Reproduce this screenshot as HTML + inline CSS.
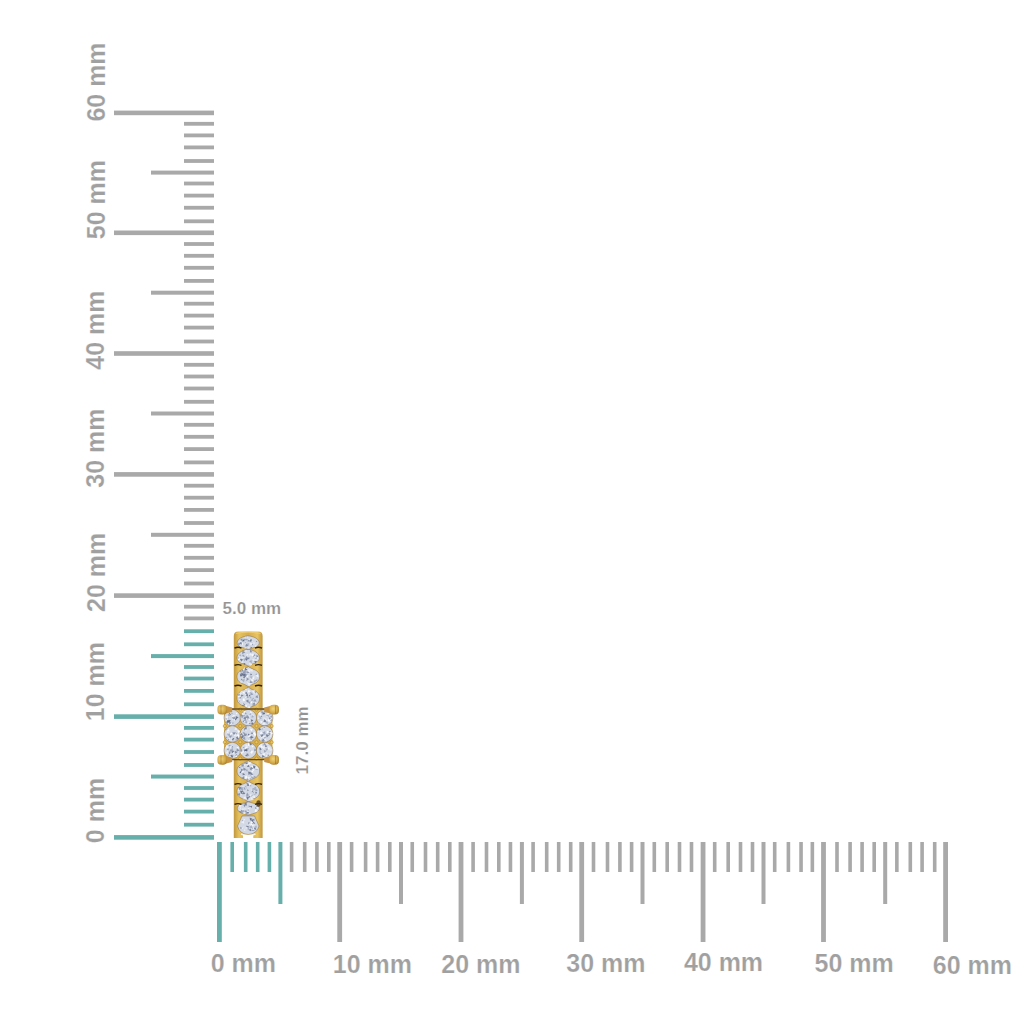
<!DOCTYPE html>
<html><head><meta charset="utf-8"><style>
html,body{margin:0;padding:0;background:#fff;}
svg{display:block;}
.lab text{font-family:"Liberation Sans",sans-serif;font-weight:bold;font-size:25.0px;fill:#a0a0a0;stroke:#fff;stroke-width:0.2px;paint-order:normal;}
.sm text{font-family:"Liberation Sans",sans-serif;font-weight:bold;font-size:17.0px;fill:#939393;stroke:#fff;stroke-width:0.2px;}
</style></head><body>
<svg width="1024" height="1024" viewBox="0 0 1024 1024">
<rect width="1024" height="1024" fill="#fff"/>
<g>
<rect x="114" y="835.10" width="100" height="4.6" fill="#66afaa"/>
<rect x="184" y="822.80" width="30" height="3.8" fill="#66afaa"/>
<rect x="184" y="809.70" width="30" height="3.8" fill="#66afaa"/>
<rect x="184" y="797.70" width="30" height="3.8" fill="#66afaa"/>
<rect x="184" y="786.10" width="30" height="3.8" fill="#66afaa"/>
<rect x="151" y="774.55" width="63" height="4.0" fill="#66afaa"/>
<rect x="184" y="763.10" width="30" height="3.8" fill="#66afaa"/>
<rect x="184" y="750.10" width="30" height="3.8" fill="#66afaa"/>
<rect x="184" y="737.70" width="30" height="3.8" fill="#66afaa"/>
<rect x="184" y="726.00" width="30" height="3.8" fill="#66afaa"/>
<rect x="114" y="714.30" width="100" height="4.6" fill="#66afaa"/>
<rect x="184" y="702.40" width="30" height="3.8" fill="#66afaa"/>
<rect x="184" y="689.00" width="30" height="3.8" fill="#66afaa"/>
<rect x="184" y="676.60" width="30" height="3.8" fill="#66afaa"/>
<rect x="184" y="665.10" width="30" height="3.8" fill="#66afaa"/>
<rect x="151" y="654.10" width="63" height="4.0" fill="#66afaa"/>
<rect x="184" y="642.40" width="30" height="3.8" fill="#66afaa"/>
<rect x="184" y="629.30" width="30" height="3.8" fill="#66afaa"/>
<rect x="184" y="616.50" width="30" height="3.8" fill="#a9a9a9"/>
<rect x="184" y="604.80" width="30" height="3.8" fill="#a9a9a9"/>
<rect x="114" y="593.30" width="100" height="4.6" fill="#a9a9a9"/>
<rect x="184" y="581.60" width="30" height="3.8" fill="#a9a9a9"/>
<rect x="184" y="568.20" width="30" height="3.8" fill="#a9a9a9"/>
<rect x="184" y="555.90" width="30" height="3.8" fill="#a9a9a9"/>
<rect x="184" y="543.90" width="30" height="3.8" fill="#a9a9a9"/>
<rect x="151" y="532.80" width="63" height="4.0" fill="#a9a9a9"/>
<rect x="184" y="521.10" width="30" height="3.8" fill="#a9a9a9"/>
<rect x="184" y="508.00" width="30" height="3.8" fill="#a9a9a9"/>
<rect x="184" y="495.80" width="30" height="3.8" fill="#a9a9a9"/>
<rect x="184" y="483.80" width="30" height="3.8" fill="#a9a9a9"/>
<rect x="114" y="472.10" width="100" height="4.6" fill="#a9a9a9"/>
<rect x="184" y="460.50" width="30" height="3.8" fill="#a9a9a9"/>
<rect x="184" y="447.20" width="30" height="3.8" fill="#a9a9a9"/>
<rect x="184" y="434.90" width="30" height="3.8" fill="#a9a9a9"/>
<rect x="184" y="422.90" width="30" height="3.8" fill="#a9a9a9"/>
<rect x="151" y="411.50" width="63" height="4.0" fill="#a9a9a9"/>
<rect x="184" y="399.90" width="30" height="3.8" fill="#a9a9a9"/>
<rect x="184" y="386.60" width="30" height="3.8" fill="#a9a9a9"/>
<rect x="184" y="374.60" width="30" height="3.8" fill="#a9a9a9"/>
<rect x="184" y="362.90" width="30" height="3.8" fill="#a9a9a9"/>
<rect x="114" y="351.20" width="100" height="4.6" fill="#a9a9a9"/>
<rect x="184" y="339.60" width="30" height="3.8" fill="#a9a9a9"/>
<rect x="184" y="325.70" width="30" height="3.8" fill="#a9a9a9"/>
<rect x="184" y="313.70" width="30" height="3.8" fill="#a9a9a9"/>
<rect x="184" y="301.80" width="30" height="3.8" fill="#a9a9a9"/>
<rect x="151" y="290.70" width="63" height="4.0" fill="#a9a9a9"/>
<rect x="184" y="279.00" width="30" height="3.8" fill="#a9a9a9"/>
<rect x="184" y="265.90" width="30" height="3.8" fill="#a9a9a9"/>
<rect x="184" y="253.90" width="30" height="3.8" fill="#a9a9a9"/>
<rect x="184" y="242.10" width="30" height="3.8" fill="#a9a9a9"/>
<rect x="114" y="230.50" width="100" height="4.6" fill="#a9a9a9"/>
<rect x="184" y="219.40" width="30" height="3.8" fill="#a9a9a9"/>
<rect x="184" y="205.85" width="30" height="3.8" fill="#a9a9a9"/>
<rect x="184" y="193.70" width="30" height="3.8" fill="#a9a9a9"/>
<rect x="184" y="181.60" width="30" height="3.8" fill="#a9a9a9"/>
<rect x="151" y="170.60" width="63" height="4.0" fill="#a9a9a9"/>
<rect x="184" y="159.10" width="30" height="3.8" fill="#a9a9a9"/>
<rect x="184" y="145.50" width="30" height="3.8" fill="#a9a9a9"/>
<rect x="184" y="133.50" width="30" height="3.8" fill="#a9a9a9"/>
<rect x="184" y="121.90" width="30" height="3.8" fill="#a9a9a9"/>
<rect x="114" y="110.60" width="100" height="4.6" fill="#a9a9a9"/>
<rect x="217.00" y="842" width="4.8" height="100" fill="#66afaa"/>
<rect x="230.40" y="842" width="3.6" height="30" fill="#66afaa"/>
<rect x="243.90" y="842" width="3.6" height="30" fill="#66afaa"/>
<rect x="255.90" y="842" width="3.6" height="30" fill="#66afaa"/>
<rect x="267.60" y="842" width="3.6" height="30" fill="#66afaa"/>
<rect x="278.40" y="842" width="4.0" height="62" fill="#66afaa"/>
<rect x="289.80" y="842" width="3.6" height="30" fill="#a9a9a9"/>
<rect x="302.90" y="842" width="3.6" height="30" fill="#a9a9a9"/>
<rect x="315.10" y="842" width="3.6" height="30" fill="#a9a9a9"/>
<rect x="327.00" y="842" width="3.6" height="30" fill="#a9a9a9"/>
<rect x="337.30" y="842" width="4.8" height="100" fill="#a9a9a9"/>
<rect x="349.80" y="842" width="3.6" height="30" fill="#a9a9a9"/>
<rect x="363.80" y="842" width="3.6" height="30" fill="#a9a9a9"/>
<rect x="375.80" y="842" width="3.6" height="30" fill="#a9a9a9"/>
<rect x="388.00" y="842" width="3.6" height="30" fill="#a9a9a9"/>
<rect x="399.00" y="842" width="4.0" height="62" fill="#a9a9a9"/>
<rect x="410.45" y="842" width="3.6" height="30" fill="#a9a9a9"/>
<rect x="423.70" y="842" width="3.6" height="30" fill="#a9a9a9"/>
<rect x="435.90" y="842" width="3.6" height="30" fill="#a9a9a9"/>
<rect x="448.00" y="842" width="3.6" height="30" fill="#a9a9a9"/>
<rect x="458.60" y="842" width="4.8" height="100" fill="#a9a9a9"/>
<rect x="471.30" y="842" width="3.6" height="30" fill="#a9a9a9"/>
<rect x="484.70" y="842" width="3.6" height="30" fill="#a9a9a9"/>
<rect x="497.00" y="842" width="3.6" height="30" fill="#a9a9a9"/>
<rect x="508.65" y="842" width="3.6" height="30" fill="#a9a9a9"/>
<rect x="519.90" y="842" width="4.0" height="62" fill="#a9a9a9"/>
<rect x="531.30" y="842" width="3.6" height="30" fill="#a9a9a9"/>
<rect x="544.90" y="842" width="3.6" height="30" fill="#a9a9a9"/>
<rect x="556.90" y="842" width="3.6" height="30" fill="#a9a9a9"/>
<rect x="568.90" y="842" width="3.6" height="30" fill="#a9a9a9"/>
<rect x="579.30" y="842" width="4.8" height="100" fill="#a9a9a9"/>
<rect x="591.70" y="842" width="3.6" height="30" fill="#a9a9a9"/>
<rect x="605.70" y="842" width="3.6" height="30" fill="#a9a9a9"/>
<rect x="618.10" y="842" width="3.6" height="30" fill="#a9a9a9"/>
<rect x="629.80" y="842" width="3.6" height="30" fill="#a9a9a9"/>
<rect x="640.50" y="842" width="4.0" height="62" fill="#a9a9a9"/>
<rect x="652.50" y="842" width="3.6" height="30" fill="#a9a9a9"/>
<rect x="665.40" y="842" width="3.6" height="30" fill="#a9a9a9"/>
<rect x="677.70" y="842" width="3.6" height="30" fill="#a9a9a9"/>
<rect x="689.70" y="842" width="3.6" height="30" fill="#a9a9a9"/>
<rect x="700.65" y="842" width="4.8" height="100" fill="#a9a9a9"/>
<rect x="712.90" y="842" width="3.6" height="30" fill="#a9a9a9"/>
<rect x="726.40" y="842" width="3.6" height="30" fill="#a9a9a9"/>
<rect x="738.70" y="842" width="3.6" height="30" fill="#a9a9a9"/>
<rect x="750.70" y="842" width="3.6" height="30" fill="#a9a9a9"/>
<rect x="761.50" y="842" width="4.0" height="62" fill="#a9a9a9"/>
<rect x="772.90" y="842" width="3.6" height="30" fill="#a9a9a9"/>
<rect x="786.60" y="842" width="3.6" height="30" fill="#a9a9a9"/>
<rect x="799.25" y="842" width="3.6" height="30" fill="#a9a9a9"/>
<rect x="810.55" y="842" width="3.6" height="30" fill="#a9a9a9"/>
<rect x="821.10" y="842" width="4.8" height="100" fill="#a9a9a9"/>
<rect x="835.20" y="842" width="3.6" height="30" fill="#a9a9a9"/>
<rect x="848.30" y="842" width="3.6" height="30" fill="#a9a9a9"/>
<rect x="860.30" y="842" width="3.6" height="30" fill="#a9a9a9"/>
<rect x="872.40" y="842" width="3.6" height="30" fill="#a9a9a9"/>
<rect x="883.20" y="842" width="4.0" height="62" fill="#a9a9a9"/>
<rect x="895.05" y="842" width="3.6" height="30" fill="#a9a9a9"/>
<rect x="908.50" y="842" width="3.6" height="30" fill="#a9a9a9"/>
<rect x="920.30" y="842" width="3.6" height="30" fill="#a9a9a9"/>
<rect x="932.90" y="842" width="3.6" height="30" fill="#a9a9a9"/>
<rect x="943.20" y="842" width="4.8" height="100" fill="#a9a9a9"/>
</g>
<g class="lab">
<text x="243.40" y="971.95" text-anchor="middle">0 mm</text>
<text x="372.40" y="972.75" text-anchor="middle">10 mm</text>
<text x="480.90" y="972.95" text-anchor="middle">20 mm</text>
<text x="605.90" y="971.55" text-anchor="middle">30 mm</text>
<text x="723.50" y="971.45" text-anchor="middle">40 mm</text>
<text x="854.20" y="972.25" text-anchor="middle">50 mm</text>
<text x="972.40" y="974.35" text-anchor="middle">60 mm</text>
<text transform="translate(104.15,810.50) rotate(-90)" text-anchor="middle">0 mm</text>
<text transform="translate(104.15,681.60) rotate(-90)" text-anchor="middle">10 mm</text>
<text transform="translate(105.35,572.40) rotate(-90)" text-anchor="middle">20 mm</text>
<text transform="translate(103.95,448.10) rotate(-90)" text-anchor="middle">30 mm</text>
<text transform="translate(103.85,330.10) rotate(-90)" text-anchor="middle">40 mm</text>
<text transform="translate(104.65,199.60) rotate(-90)" text-anchor="middle">50 mm</text>
<text transform="translate(105.35,82.00) rotate(-90)" text-anchor="middle">60 mm</text>
</g>
<g class="sm">
<text x="251.90" y="613.99" text-anchor="middle">5.0 mm</text>
<text transform="translate(308.19,740.40) rotate(-90)" text-anchor="middle">17.0 mm</text>
</g>
<g>
<defs>
<linearGradient id="gold" x1="0" y1="0" x2="1" y2="0">
<stop offset="0" stop-color="#c1973f"/>
<stop offset="0.18" stop-color="#e6c25f"/>
<stop offset="0.5" stop-color="#d6ad4e"/>
<stop offset="0.82" stop-color="#e8c462"/>
<stop offset="1" stop-color="#bf953d"/>
</linearGradient>
<linearGradient id="goldv" x1="0" y1="0" x2="0" y2="1">
<stop offset="0" stop-color="#dfb858"/>
<stop offset="1" stop-color="#d3aa4c"/>
</linearGradient>
<radialGradient id="prong" cx="0.4" cy="0.4" r="0.7">
<stop offset="0" stop-color="#efd47a"/>
<stop offset="0.6" stop-color="#d4aa4a"/>
<stop offset="1" stop-color="#a77d2c"/>
</radialGradient>
<filter id="soft" x="-10%" y="-10%" width="120%" height="120%"><feGaussianBlur stdDeviation="0.45"/></filter>
</defs>
<g filter="url(#soft)">
<path d="M233.8,636 Q233.8,631.6 238.5,631.6 L258,631.6 Q262.6,631.6 262.6,636 L262.6,838 L253.3,838 L253.3,835 L243,835 L243,838 L233.8,838 Z" fill="url(#gold)"/>
<path d="M236,633.5 Q248,631 260.5,633.5" stroke="#f3d27a" stroke-width="1.2" fill="none" opacity="0.7"/>
<polygon points="259.20,642.80 259.10,643.69 258.78,644.55 258.21,645.36 257.39,646.08 256.37,646.67 255.23,647.15 254.07,647.53 252.92,647.85 251.80,648.17 250.69,648.54 249.53,649.02 248.20,649.60 246.87,649.02 245.71,648.54 244.60,648.17 243.48,647.85 242.33,647.53 241.17,647.15 240.03,646.67 239.01,646.08 238.19,645.36 237.62,644.55 237.30,643.69 237.20,642.80 237.29,641.91 237.58,641.04 238.07,640.21 238.74,639.42 239.58,638.71 240.56,638.08 241.65,637.52 242.83,637.05 244.07,636.64 245.39,636.32 246.77,636.10 248.20,636.00 249.63,636.10 251.01,636.32 252.33,636.64 253.57,637.05 254.75,637.52 255.84,638.08 256.82,638.71 257.66,639.42 258.33,640.21 258.82,641.04 259.11,641.91" fill="#d3d9e4" stroke="#6e4a1c" stroke-width="0.7" stroke-opacity="0.55"/>
<polygon points="239.43,644.53 242.00,642.18 242.74,645.58" fill="#ffffff" opacity="0.8"/>
<polygon points="248.90,641.06 251.42,639.04 251.91,642.23" fill="#5e6a86" opacity="0.8"/>
<polygon points="252.93,643.67 253.18,645.40 251.56,644.76" fill="#73809c" opacity="0.8"/>
<polygon points="243.15,639.27 244.55,641.34 242.05,641.52" fill="#5e6a86" opacity="0.8"/>
<polygon points="242.94,639.26 241.32,639.76 241.70,638.11" fill="#8894ad" opacity="0.8"/>
<polygon points="240.30,639.06 242.54,639.17 241.33,641.05" fill="#73809c" opacity="0.8"/>
<polygon points="239.85,640.96 242.13,642.20 239.92,643.55" fill="#f4f6fa" opacity="0.8"/>
<polygon points="246.20,639.05 244.63,641.25 243.51,638.79" fill="#8894ad" opacity="0.8"/>
<polygon points="246.51,640.75 245.95,638.79 247.93,639.29" fill="#8894ad" opacity="0.8"/>
<polygon points="245.05,643.05 244.58,641.33 246.31,641.78" fill="#8894ad" opacity="0.8"/>
<polygon points="256.89,642.26 255.80,641.15 257.31,640.76" fill="#73809c" opacity="0.8"/>
<polygon points="240.17,644.50 237.79,644.66 238.85,642.52" fill="#73809c" opacity="0.8"/>
<polygon points="248.58,640.66 248.58,638.92 250.09,639.79" fill="#ffffff" opacity="0.8"/>
<polygon points="249.33,641.49 247.27,641.26 248.50,639.59" fill="#73809c" opacity="0.8"/>
<polygon points="242.36,645.29 240.01,643.46 242.77,642.34" fill="#ffffff" opacity="0.8"/>
<polygon points="250.51,646.66 252.21,647.34 250.78,648.47" fill="#525d78" opacity="0.8"/>
<polygon points="241.31,645.72 241.01,647.25 239.83,646.22" fill="#e6eaf1" opacity="0.8"/>
<polygon points="244.30,648.73 245.05,646.88 246.28,648.45" fill="#e6eaf1" opacity="0.8"/>
<polygon points="255.79,647.41 254.88,645.62 256.88,645.73" fill="#ffffff" opacity="0.8"/>
<polygon points="251.31,640.55 250.11,639.34 251.76,638.90" fill="#8894ad" opacity="0.8"/>
<polygon points="255.10,644.33 252.36,643.55 254.41,641.56" fill="#e6eaf1" opacity="0.8"/>
<polygon points="241.81,645.03 239.09,643.06 242.15,641.68" fill="#9aa5bd" opacity="0.8"/>
<polygon points="246.25,643.80 248.03,646.00 245.23,646.44" fill="#5e6a86" opacity="0.8"/>
<polygon points="248.67,636.75 247.35,638.21 246.74,636.34" fill="#e6eaf1" opacity="0.8"/>
<polygon points="244.27,640.73 242.57,641.22 243.00,639.50" fill="#525d78" opacity="0.8"/>
<polygon points="249.32,646.65 249.45,648.74 247.58,647.80" fill="#e6eaf1" opacity="0.8"/>
<polygon points="248.73,645.91 245.68,646.19 246.96,643.42" fill="#8894ad" opacity="0.8"/>
<polygon points="242.03,644.15 239.19,644.32 240.47,641.78" fill="#73809c" opacity="0.8"/>
<polygon points="251.82,642.39 251.20,640.93 252.78,641.12" fill="#f4f6fa" opacity="0.8"/>
<polygon points="247.00,643.83 249.03,643.14 248.61,645.24" fill="#9aa5bd" opacity="0.8"/>
<polygon points="250.46,645.26 250.43,642.76 252.61,643.98" fill="#ffffff" opacity="0.8"/>
<polygon points="246.06,641.79 244.56,642.44 244.75,640.82" fill="#f4f6fa" opacity="0.8"/>
<polygon points="244.76,636.59 246.27,637.12 245.06,638.17" fill="#e6eaf1" opacity="0.8"/>
<polygon points="259.40,657.80 259.30,658.90 258.97,659.96 258.37,660.96 257.51,661.83 256.44,662.54 255.26,663.09 254.05,663.51 252.87,663.86 251.74,664.21 250.64,664.64 249.51,665.27 248.20,666.20 246.89,665.27 245.76,664.64 244.66,664.21 243.53,663.86 242.35,663.51 241.14,663.09 239.96,662.54 238.89,661.83 238.03,660.96 237.43,659.96 237.10,658.90 237.00,657.80 237.10,656.70 237.40,655.63 237.90,654.60 238.61,653.65 239.49,652.78 240.50,652.02 241.61,651.36 242.80,650.79 244.05,650.29 245.37,649.87 246.75,649.55 248.20,649.40 249.65,649.55 251.03,649.87 252.35,650.29 253.60,650.79 254.79,651.36 255.90,652.02 256.91,652.78 257.79,653.65 258.50,654.60 259.00,655.63 259.30,656.70" fill="#d3d9e4" stroke="#6e4a1c" stroke-width="0.7" stroke-opacity="0.55"/>
<polygon points="254.09,659.93 252.25,660.06 253.06,658.40" fill="#f4f6fa" opacity="0.8"/>
<polygon points="240.06,654.04 242.01,656.86 238.59,657.14" fill="#9aa5bd" opacity="0.8"/>
<polygon points="250.17,649.88 252.00,651.25 249.90,652.16" fill="#8894ad" opacity="0.8"/>
<polygon points="253.73,653.00 253.13,656.14 250.70,654.05" fill="#e6eaf1" opacity="0.8"/>
<polygon points="257.41,658.45 255.29,659.46 255.48,657.12" fill="#8894ad" opacity="0.8"/>
<polygon points="256.51,659.17 255.47,662.64 252.99,660.01" fill="#ffffff" opacity="0.8"/>
<polygon points="240.36,662.41 242.08,660.24 243.09,662.82" fill="#f4f6fa" opacity="0.8"/>
<polygon points="254.71,660.41 256.32,660.59 255.36,661.90" fill="#e6eaf1" opacity="0.8"/>
<polygon points="257.79,657.78 258.38,659.47 256.62,659.13" fill="#e6eaf1" opacity="0.8"/>
<polygon points="247.61,657.44 249.42,658.66 247.45,659.62" fill="#73809c" opacity="0.8"/>
<polygon points="241.02,656.52 239.72,658.38 238.76,656.32" fill="#e6eaf1" opacity="0.8"/>
<polygon points="253.05,656.79 250.85,654.85 253.64,653.91" fill="#ffffff" opacity="0.8"/>
<polygon points="251.24,652.95 249.90,651.50 251.83,651.06" fill="#8894ad" opacity="0.8"/>
<polygon points="242.41,655.78 243.98,654.83 244.02,656.67" fill="#73809c" opacity="0.8"/>
<polygon points="246.52,652.00 244.69,650.90 246.55,649.86" fill="#f4f6fa" opacity="0.8"/>
<polygon points="237.61,660.33 238.61,657.20 240.83,659.63" fill="#ffffff" opacity="0.8"/>
<polygon points="244.65,657.74 242.00,659.71 241.62,656.42" fill="#f4f6fa" opacity="0.8"/>
<polygon points="243.46,663.01 245.57,663.34 244.24,665.01" fill="#525d78" opacity="0.8"/>
<polygon points="245.17,656.29 242.22,657.54 242.60,654.36" fill="#9aa5bd" opacity="0.8"/>
<polygon points="244.51,661.39 243.22,658.51 246.37,658.83" fill="#9aa5bd" opacity="0.8"/>
<polygon points="251.80,651.55 250.02,651.26 251.16,649.87" fill="#f4f6fa" opacity="0.8"/>
<polygon points="242.48,650.51 245.34,652.62 242.09,654.04" fill="#73809c" opacity="0.8"/>
<polygon points="250.45,652.75 251.89,655.43 248.85,655.34" fill="#f4f6fa" opacity="0.8"/>
<polygon points="246.59,655.81 246.75,653.69 248.51,654.89" fill="#ffffff" opacity="0.8"/>
<polygon points="239.15,656.89 238.97,658.77 237.43,657.68" fill="#8894ad" opacity="0.8"/>
<polygon points="257.41,662.75 254.48,661.86 256.71,659.77" fill="#f4f6fa" opacity="0.8"/>
<polygon points="250.33,663.99 251.87,663.67 251.38,665.16" fill="#ffffff" opacity="0.8"/>
<polygon points="250.08,649.85 252.38,650.89 250.33,652.36" fill="#73809c" opacity="0.8"/>
<polygon points="257.19,660.89 255.45,663.60 253.97,660.74" fill="#525d78" opacity="0.8"/>
<polygon points="252.36,664.22 249.53,666.45 249.02,662.89" fill="#f4f6fa" opacity="0.8"/>
<polygon points="257.22,655.59 258.62,657.16 256.55,657.58" fill="#5e6a86" opacity="0.8"/>
<polygon points="245.22,659.06 247.64,658.55 246.88,660.90" fill="#525d78" opacity="0.8"/>
<polygon points="248.29,658.63 245.07,659.02 246.34,656.04" fill="#73809c" opacity="0.8"/>
<polygon points="251.99,662.95 248.99,661.83 251.46,659.80" fill="#9aa5bd" opacity="0.8"/>
<polygon points="256.74,656.42 258.92,657.90 256.55,659.05" fill="#f4f6fa" opacity="0.8"/>
<polygon points="256.36,657.14 252.83,657.08 254.65,654.05" fill="#8894ad" opacity="0.8"/>
<polygon points="239.71,659.10 242.97,658.66 241.73,661.70" fill="#5e6a86" opacity="0.8"/>
<polygon points="238.79,658.30 238.42,655.60 240.94,656.63" fill="#e6eaf1" opacity="0.8"/>
<polygon points="256.34,657.43 255.83,654.66 258.49,655.60" fill="#9aa5bd" opacity="0.8"/>
<polygon points="255.57,658.28 253.53,656.42 256.15,655.59" fill="#f4f6fa" opacity="0.8"/>
<polygon points="247.40,657.81 249.65,657.16 249.09,659.43" fill="#73809c" opacity="0.8"/>
<polygon points="240.37,656.62 243.57,656.21 242.33,659.18" fill="#e6eaf1" opacity="0.8"/>
<polygon points="259.60,676.60 259.50,677.90 259.17,679.18 258.58,680.37 257.74,681.42 256.69,682.30 255.53,682.99 254.33,683.55 253.15,684.03 252.00,684.50 250.86,685.04 249.66,685.75 248.30,686.60 246.94,685.75 245.74,685.04 244.60,684.50 243.45,684.03 242.27,683.55 241.07,682.99 239.91,682.30 238.86,681.42 238.02,680.37 237.43,679.18 237.10,677.90 237.00,676.60 237.10,675.30 237.43,674.02 238.02,672.83 238.86,671.78 239.91,670.90 241.07,670.21 242.27,669.65 243.45,669.17 244.60,668.70 245.74,668.16 246.94,667.45 248.30,666.60 249.66,667.45 250.86,668.16 252.00,668.70 253.15,669.17 254.33,669.65 255.53,670.21 256.69,670.90 257.74,671.78 258.58,672.83 259.17,674.02 259.50,675.30" fill="#d3d9e4" stroke="#6e4a1c" stroke-width="0.7" stroke-opacity="0.55"/>
<polygon points="249.68,679.07 252.16,676.61 253.05,679.99" fill="#e6eaf1" opacity="0.8"/>
<polygon points="246.53,682.94 247.60,681.47 248.34,683.13" fill="#e6eaf1" opacity="0.8"/>
<polygon points="246.49,676.41 244.20,677.22 244.65,674.83" fill="#525d78" opacity="0.8"/>
<polygon points="254.55,683.03 253.32,682.00 254.83,681.44" fill="#8894ad" opacity="0.8"/>
<polygon points="253.56,678.71 251.94,676.11 255.00,676.01" fill="#e6eaf1" opacity="0.8"/>
<polygon points="253.87,681.06 255.50,680.26 255.38,682.07" fill="#525d78" opacity="0.8"/>
<polygon points="248.58,669.78 245.43,671.03 245.93,667.68" fill="#ffffff" opacity="0.8"/>
<polygon points="252.81,669.38 252.30,672.01 250.28,670.25" fill="#f4f6fa" opacity="0.8"/>
<polygon points="242.24,670.54 245.52,671.13 243.37,673.67" fill="#9aa5bd" opacity="0.8"/>
<polygon points="250.75,682.93 249.38,685.87 247.52,683.22" fill="#ffffff" opacity="0.8"/>
<polygon points="241.14,670.55 241.80,672.40 239.87,672.05" fill="#73809c" opacity="0.8"/>
<polygon points="250.85,673.37 252.13,674.98 250.09,675.28" fill="#525d78" opacity="0.8"/>
<polygon points="241.43,679.75 244.83,678.88 243.89,682.26" fill="#9aa5bd" opacity="0.8"/>
<polygon points="252.20,684.19 248.99,683.93 250.81,681.28" fill="#e6eaf1" opacity="0.8"/>
<polygon points="245.99,670.44 242.49,669.72 244.86,667.05" fill="#ffffff" opacity="0.8"/>
<polygon points="245.54,670.98 245.55,674.61 242.40,672.80" fill="#8894ad" opacity="0.8"/>
<polygon points="245.41,675.57 248.50,676.16 246.44,678.53" fill="#e6eaf1" opacity="0.8"/>
<polygon points="244.55,677.96 243.03,677.00 244.62,676.16" fill="#5e6a86" opacity="0.8"/>
<polygon points="258.64,676.48 256.90,676.71 257.57,675.09" fill="#f4f6fa" opacity="0.8"/>
<polygon points="249.76,678.47 251.07,676.50 252.13,678.62" fill="#f4f6fa" opacity="0.8"/>
<polygon points="241.16,678.58 242.33,679.65 240.82,680.13" fill="#73809c" opacity="0.8"/>
<polygon points="249.58,682.90 250.93,680.12 252.67,682.68" fill="#73809c" opacity="0.8"/>
<polygon points="245.09,676.62 244.90,673.42 247.77,674.86" fill="#8894ad" opacity="0.8"/>
<polygon points="249.59,668.31 252.80,669.26 250.37,671.56" fill="#e6eaf1" opacity="0.8"/>
<polygon points="243.56,676.34 243.69,673.57 246.03,675.07" fill="#525d78" opacity="0.8"/>
<polygon points="248.64,681.02 245.89,679.58 248.52,677.91" fill="#e6eaf1" opacity="0.8"/>
<polygon points="251.01,681.42 251.62,678.81 253.57,680.65" fill="#ffffff" opacity="0.8"/>
<polygon points="250.49,671.87 247.44,672.11 248.75,669.35" fill="#ffffff" opacity="0.8"/>
<polygon points="249.27,679.09 246.43,680.96 246.23,677.57" fill="#73809c" opacity="0.8"/>
<polygon points="248.48,686.41 248.56,683.47 251.07,685.01" fill="#e6eaf1" opacity="0.8"/>
<polygon points="243.19,673.92 241.14,675.11 241.14,672.74" fill="#73809c" opacity="0.8"/>
<polygon points="247.78,669.69 244.44,671.02 244.95,667.47" fill="#525d78" opacity="0.8"/>
<polygon points="249.26,672.65 246.92,673.15 247.67,670.87" fill="#73809c" opacity="0.8"/>
<polygon points="247.50,677.07 246.76,675.11 248.82,675.45" fill="#ffffff" opacity="0.8"/>
<polygon points="239.79,673.84 243.35,673.49 241.87,676.74" fill="#525d78" opacity="0.8"/>
<polygon points="241.79,670.09 243.50,670.24 242.51,671.65" fill="#73809c" opacity="0.8"/>
<polygon points="242.47,681.84 240.68,683.38 240.24,681.06" fill="#e6eaf1" opacity="0.8"/>
<polygon points="239.59,674.91 241.67,673.61 241.75,676.06" fill="#9aa5bd" opacity="0.8"/>
<polygon points="240.54,676.78 239.86,674.57 242.12,675.09" fill="#525d78" opacity="0.8"/>
<polygon points="242.96,676.57 242.25,673.61 245.17,674.48" fill="#5e6a86" opacity="0.8"/>
<polygon points="247.96,670.94 249.27,668.38 250.83,670.80" fill="#e6eaf1" opacity="0.8"/>
<polygon points="252.29,677.51 254.68,677.48 253.51,679.56" fill="#ffffff" opacity="0.8"/>
<polygon points="255.24,680.47 257.17,678.96 257.51,681.39" fill="#8894ad" opacity="0.8"/>
<polygon points="252.82,676.36 251.33,679.24 249.58,676.50" fill="#9aa5bd" opacity="0.8"/>
<polygon points="258.28,676.64 255.53,676.08 257.39,673.97" fill="#ffffff" opacity="0.8"/>
<polygon points="243.11,677.51 244.67,676.94 244.38,678.58" fill="#525d78" opacity="0.8"/>
<polygon points="244.78,678.22 247.19,678.49 245.75,680.44" fill="#e6eaf1" opacity="0.8"/>
<polygon points="246.57,670.20 246.92,673.28 244.07,672.05" fill="#9aa5bd" opacity="0.8"/>
<polygon points="257.21,675.20 255.20,674.81 256.54,673.26" fill="#9aa5bd" opacity="0.8"/>
<polygon points="249.78,671.23 248.90,669.10 251.19,669.41" fill="#e6eaf1" opacity="0.8"/>
<polygon points="259.60,698.00 259.50,699.41 259.17,700.78 258.58,702.07 257.74,703.21 256.69,704.15 255.53,704.91 254.33,705.51 253.15,706.02 252.00,706.53 250.86,707.12 249.66,707.88 248.30,708.80 246.94,707.88 245.74,707.12 244.60,706.53 243.45,706.02 242.27,705.51 241.07,704.91 239.91,704.15 238.86,703.21 238.02,702.07 237.43,700.78 237.10,699.41 237.00,698.00 237.10,696.59 237.43,695.22 238.02,693.93 238.86,692.79 239.91,691.85 241.07,691.09 242.27,690.49 243.45,689.98 244.60,689.47 245.74,688.88 246.94,688.12 248.30,687.20 249.66,688.12 250.86,688.88 252.00,689.47 253.15,689.98 254.33,690.49 255.53,691.09 256.69,691.85 257.74,692.79 258.58,693.93 259.17,695.22 259.50,696.59" fill="#d3d9e4" stroke="#6e4a1c" stroke-width="0.7" stroke-opacity="0.55"/>
<polygon points="247.04,695.36 245.85,693.59 247.98,693.44" fill="#8894ad" opacity="0.8"/>
<polygon points="239.93,696.86 241.52,698.02 239.73,698.82" fill="#73809c" opacity="0.8"/>
<polygon points="254.18,698.50 252.63,698.96 253.01,697.39" fill="#8894ad" opacity="0.8"/>
<polygon points="245.31,696.45 246.76,697.41 245.20,698.19" fill="#f4f6fa" opacity="0.8"/>
<polygon points="248.33,708.40 248.66,705.86 250.70,707.42" fill="#ffffff" opacity="0.8"/>
<polygon points="245.31,705.57 242.02,705.76 243.50,702.81" fill="#525d78" opacity="0.8"/>
<polygon points="240.14,698.86 241.43,701.90 238.16,701.51" fill="#f4f6fa" opacity="0.8"/>
<polygon points="242.61,701.55 243.33,698.39 245.70,700.59" fill="#ffffff" opacity="0.8"/>
<polygon points="246.90,707.61 244.25,705.68 247.25,704.35" fill="#f4f6fa" opacity="0.8"/>
<polygon points="241.24,694.57 243.41,694.02 242.80,696.17" fill="#ffffff" opacity="0.8"/>
<polygon points="241.51,697.08 240.87,694.17 243.72,695.07" fill="#5e6a86" opacity="0.8"/>
<polygon points="253.79,700.82 250.85,700.85 252.30,698.29" fill="#9aa5bd" opacity="0.8"/>
<polygon points="240.70,697.39 240.03,699.53 238.52,697.88" fill="#8894ad" opacity="0.8"/>
<polygon points="244.07,705.11 241.80,704.62 243.36,702.90" fill="#f4f6fa" opacity="0.8"/>
<polygon points="241.53,693.17 239.84,696.25 238.02,693.24" fill="#f4f6fa" opacity="0.8"/>
<polygon points="238.99,697.67 237.36,695.75 239.83,695.30" fill="#ffffff" opacity="0.8"/>
<polygon points="247.49,704.64 247.92,702.36 249.68,703.88" fill="#e6eaf1" opacity="0.8"/>
<polygon points="239.57,695.08 240.24,692.06 242.52,694.15" fill="#e6eaf1" opacity="0.8"/>
<polygon points="240.34,697.25 238.07,695.75 240.51,694.53" fill="#f4f6fa" opacity="0.8"/>
<polygon points="251.18,694.53 252.64,693.87 252.49,695.47" fill="#f4f6fa" opacity="0.8"/>
<polygon points="251.69,701.50 251.61,703.10 250.26,702.22" fill="#ffffff" opacity="0.8"/>
<polygon points="256.55,701.64 253.36,701.62 254.97,698.86" fill="#8894ad" opacity="0.8"/>
<polygon points="249.09,701.21 247.02,701.99 247.38,699.81" fill="#9aa5bd" opacity="0.8"/>
<polygon points="255.20,701.49 256.88,703.25 254.52,703.83" fill="#e6eaf1" opacity="0.8"/>
<polygon points="247.55,692.40 248.73,689.48 250.67,691.96" fill="#ffffff" opacity="0.8"/>
<polygon points="249.23,693.03 250.75,691.99 250.89,693.83" fill="#8894ad" opacity="0.8"/>
<polygon points="246.51,688.13 246.62,690.53 244.47,689.42" fill="#f4f6fa" opacity="0.8"/>
<polygon points="255.07,690.09 253.95,693.19 251.83,690.67" fill="#f4f6fa" opacity="0.8"/>
<polygon points="244.36,691.12 244.95,694.10 242.08,693.12" fill="#ffffff" opacity="0.8"/>
<polygon points="257.23,694.88 255.41,693.90 257.17,692.81" fill="#e6eaf1" opacity="0.8"/>
<polygon points="244.72,692.90 246.96,692.11 246.53,694.44" fill="#525d78" opacity="0.8"/>
<polygon points="251.59,698.41 249.44,697.98 250.89,696.32" fill="#9aa5bd" opacity="0.8"/>
<polygon points="248.03,694.34 249.23,693.15 249.66,694.78" fill="#e6eaf1" opacity="0.8"/>
<polygon points="240.02,700.20 238.36,698.75 240.45,698.03" fill="#f4f6fa" opacity="0.8"/>
<polygon points="247.81,701.46 250.85,701.67 249.14,704.20" fill="#8894ad" opacity="0.8"/>
<polygon points="240.82,700.42 239.71,702.54 238.43,700.51" fill="#9aa5bd" opacity="0.8"/>
<polygon points="242.60,690.27 242.26,692.95 240.11,691.31" fill="#e6eaf1" opacity="0.8"/>
<polygon points="254.16,691.80 256.37,691.30 255.71,693.47" fill="#8894ad" opacity="0.8"/>
<polygon points="244.63,698.17 243.54,699.42 243.00,697.85" fill="#e6eaf1" opacity="0.8"/>
<polygon points="257.35,694.97 258.25,698.01 255.17,697.27" fill="#73809c" opacity="0.8"/>
<polygon points="244.78,694.34 246.00,693.33 246.27,694.89" fill="#f4f6fa" opacity="0.8"/>
<polygon points="244.67,698.44 244.04,700.79 242.32,699.07" fill="#ffffff" opacity="0.8"/>
<polygon points="252.19,701.54 251.72,703.58 250.18,702.15" fill="#ffffff" opacity="0.8"/>
<polygon points="252.39,703.75 254.99,702.58 254.70,705.41" fill="#73809c" opacity="0.8"/>
<polygon points="253.71,703.85 253.83,705.41 252.42,704.73" fill="#9aa5bd" opacity="0.8"/>
<polygon points="249.27,694.39 250.69,695.96 248.62,696.41" fill="#525d78" opacity="0.8"/>
<polygon points="254.56,692.02 255.44,693.51 253.71,693.53" fill="#f4f6fa" opacity="0.8"/>
<polygon points="250.07,694.90 251.67,692.13 253.27,694.90" fill="#8894ad" opacity="0.8"/>
<polygon points="248.77,692.41 249.55,690.97 250.40,692.37" fill="#e6eaf1" opacity="0.8"/>
<polygon points="252.72,706.31 252.41,704.13 254.46,704.95" fill="#8894ad" opacity="0.8"/>
<polygon points="240.69,695.45 237.76,695.76 238.96,693.07" fill="#8894ad" opacity="0.8"/>
<polygon points="245.74,695.52 247.46,693.87 248.02,696.18" fill="#525d78" opacity="0.8"/>
<polygon points="247.35,695.83 248.99,697.51 246.72,698.09" fill="#8894ad" opacity="0.8"/>
<polygon points="248.54,699.60 248.09,702.73 245.60,700.77" fill="#73809c" opacity="0.8"/>
<path d="M234.5,648.1 q3.5,-1.6 7,0" stroke="#2e200c" stroke-width="1.4" fill="none"/><path d="M255,648.1 q3.5,-1.6 7,0" stroke="#2e200c" stroke-width="1.4" fill="none"/>
<path d="M234.5,665.4 q3.5,-1.6 7,0" stroke="#2e200c" stroke-width="1.4" fill="none"/><path d="M255,665.4 q3.5,-1.6 7,0" stroke="#2e200c" stroke-width="1.4" fill="none"/>
<path d="M234.5,686.0 q3.5,-1.6 7,0" stroke="#2e200c" stroke-width="1.4" fill="none"/><path d="M255,686.0 q3.5,-1.6 7,0" stroke="#2e200c" stroke-width="1.4" fill="none"/>
<polygon points="259.60,771.00 259.50,772.34 259.17,773.66 258.58,774.88 257.74,775.97 256.69,776.87 255.53,777.59 254.33,778.16 253.15,778.65 252.00,779.13 250.86,779.70 249.66,780.42 248.30,781.30 246.94,780.42 245.74,779.70 244.60,779.13 243.45,778.65 242.27,778.16 241.07,777.59 239.91,776.87 238.86,775.97 238.02,774.88 237.43,773.66 237.10,772.34 237.00,771.00 237.10,769.66 237.43,768.34 238.02,767.12 238.86,766.03 239.91,765.13 241.07,764.41 242.27,763.84 243.45,763.35 244.60,762.87 245.74,762.30 246.94,761.58 248.30,760.70 249.66,761.58 250.86,762.30 252.00,762.87 253.15,763.35 254.33,763.84 255.53,764.41 256.69,765.13 257.74,766.03 258.58,767.12 259.17,768.34 259.50,769.66" fill="#d3d9e4" stroke="#6e4a1c" stroke-width="0.7" stroke-opacity="0.55"/>
<polygon points="252.94,768.35 251.19,770.62 250.10,767.98" fill="#9aa5bd" opacity="0.8"/>
<polygon points="257.79,769.61 255.08,769.55 256.49,767.23" fill="#73809c" opacity="0.8"/>
<polygon points="252.11,777.82 250.66,779.53 249.90,777.42" fill="#e6eaf1" opacity="0.8"/>
<polygon points="239.55,773.31 240.30,770.94 241.98,772.78" fill="#525d78" opacity="0.8"/>
<polygon points="249.76,771.47 251.86,773.56 248.99,774.33" fill="#5e6a86" opacity="0.8"/>
<polygon points="248.54,771.20 250.37,772.93 247.95,773.65" fill="#525d78" opacity="0.8"/>
<polygon points="247.99,775.08 248.80,773.45 249.81,774.96" fill="#8894ad" opacity="0.8"/>
<polygon points="244.76,779.33 241.48,778.14 244.15,775.90" fill="#73809c" opacity="0.8"/>
<polygon points="248.57,764.15 248.54,761.79 250.60,762.95" fill="#ffffff" opacity="0.8"/>
<polygon points="241.65,767.18 241.37,764.36 243.96,765.53" fill="#8894ad" opacity="0.8"/>
<polygon points="243.77,765.92 243.75,764.33 245.14,765.11" fill="#ffffff" opacity="0.8"/>
<polygon points="246.47,778.06 244.51,776.18 247.11,775.42" fill="#ffffff" opacity="0.8"/>
<polygon points="251.32,764.50 248.80,763.22 251.17,761.68" fill="#f4f6fa" opacity="0.8"/>
<polygon points="252.92,767.22 254.91,766.08 254.90,768.37" fill="#9aa5bd" opacity="0.8"/>
<polygon points="246.43,769.20 243.42,770.98 243.38,767.48" fill="#73809c" opacity="0.8"/>
<polygon points="247.12,768.73 248.15,771.48 245.26,770.99" fill="#9aa5bd" opacity="0.8"/>
<polygon points="247.72,779.29 247.64,776.29 250.29,777.72" fill="#f4f6fa" opacity="0.8"/>
<polygon points="247.18,777.91 248.70,779.90 246.22,780.21" fill="#8894ad" opacity="0.8"/>
<polygon points="252.78,766.69 255.48,766.30 254.47,768.83" fill="#525d78" opacity="0.8"/>
<polygon points="251.44,779.42 251.47,776.00 254.42,777.73" fill="#9aa5bd" opacity="0.8"/>
<polygon points="255.67,775.89 254.83,777.88 253.53,776.16" fill="#8894ad" opacity="0.8"/>
<polygon points="247.71,765.00 249.61,765.17 248.51,766.73" fill="#8894ad" opacity="0.8"/>
<polygon points="244.00,771.82 242.19,774.44 240.83,771.55" fill="#9aa5bd" opacity="0.8"/>
<polygon points="244.15,779.04 245.07,776.09 247.16,778.37" fill="#e6eaf1" opacity="0.8"/>
<polygon points="241.94,765.56 242.83,763.90 243.82,765.50" fill="#73809c" opacity="0.8"/>
<polygon points="252.82,776.74 250.51,775.27 252.94,774.00" fill="#ffffff" opacity="0.8"/>
<polygon points="253.48,774.91 250.05,775.56 251.20,772.26" fill="#73809c" opacity="0.8"/>
<polygon points="245.38,763.23 247.43,762.00 247.47,764.40" fill="#525d78" opacity="0.8"/>
<polygon points="241.52,770.55 243.77,772.31 241.12,773.37" fill="#ffffff" opacity="0.8"/>
<polygon points="249.48,763.00 249.36,766.63 246.28,764.72" fill="#ffffff" opacity="0.8"/>
<polygon points="250.79,767.89 249.68,769.31 249.01,767.64" fill="#ffffff" opacity="0.8"/>
<polygon points="241.09,771.88 240.82,768.45 243.92,769.93" fill="#73809c" opacity="0.8"/>
<polygon points="245.10,778.71 245.75,776.34 247.48,778.09" fill="#ffffff" opacity="0.8"/>
<polygon points="249.82,766.76 247.04,767.00 248.23,764.47" fill="#525d78" opacity="0.8"/>
<polygon points="252.91,767.02 250.32,769.19 249.74,765.86" fill="#e6eaf1" opacity="0.8"/>
<polygon points="245.48,766.03 245.13,764.00 247.06,764.71" fill="#e6eaf1" opacity="0.8"/>
<polygon points="256.59,765.85 258.77,768.76 255.16,769.19" fill="#f4f6fa" opacity="0.8"/>
<polygon points="252.87,768.53 250.79,766.06 253.97,765.49" fill="#ffffff" opacity="0.8"/>
<polygon points="240.07,766.56 240.52,768.27 238.82,767.80" fill="#525d78" opacity="0.8"/>
<polygon points="253.37,767.82 252.79,765.38 255.19,766.10" fill="#9aa5bd" opacity="0.8"/>
<polygon points="250.95,772.00 252.61,770.16 253.37,772.51" fill="#ffffff" opacity="0.8"/>
<polygon points="245.17,774.66 242.47,775.31 243.26,772.65" fill="#5e6a86" opacity="0.8"/>
<polygon points="243.84,773.41 241.76,772.59 243.51,771.20" fill="#e6eaf1" opacity="0.8"/>
<polygon points="250.81,766.42 253.39,768.54 250.26,769.72" fill="#73809c" opacity="0.8"/>
<polygon points="250.00,778.92 251.76,777.45 252.16,779.71" fill="#5e6a86" opacity="0.8"/>
<polygon points="241.37,765.07 243.96,764.23 243.40,766.89" fill="#8894ad" opacity="0.8"/>
<polygon points="252.35,779.40 250.71,779.17 251.74,777.86" fill="#ffffff" opacity="0.8"/>
<polygon points="254.29,768.91 253.60,771.24 251.92,769.48" fill="#ffffff" opacity="0.8"/>
<polygon points="246.40,763.54 243.92,763.61 245.10,761.42" fill="#8894ad" opacity="0.8"/>
<polygon points="250.29,770.35 249.11,767.60 252.08,767.95" fill="#8894ad" opacity="0.8"/>
<polygon points="243.39,769.80 243.78,771.89 241.77,771.18" fill="#ffffff" opacity="0.8"/>
<polygon points="253.55,767.57 253.14,765.57 255.07,766.21" fill="#5e6a86" opacity="0.8"/>
<polygon points="259.60,791.50 259.50,792.84 259.17,794.16 258.58,795.38 257.74,796.47 256.69,797.37 255.53,798.09 254.33,798.66 253.15,799.15 252.00,799.63 250.86,800.20 249.66,800.92 248.30,801.80 246.94,800.92 245.74,800.20 244.60,799.63 243.45,799.15 242.27,798.66 241.07,798.09 239.91,797.37 238.86,796.47 238.02,795.38 237.43,794.16 237.10,792.84 237.00,791.50 237.10,790.16 237.43,788.84 238.02,787.62 238.86,786.53 239.91,785.63 241.07,784.91 242.27,784.34 243.45,783.85 244.60,783.37 245.74,782.80 246.94,782.08 248.30,781.20 249.66,782.08 250.86,782.80 252.00,783.37 253.15,783.85 254.33,784.34 255.53,784.91 256.69,785.63 257.74,786.53 258.58,787.62 259.17,788.84 259.50,790.16" fill="#d3d9e4" stroke="#6e4a1c" stroke-width="0.7" stroke-opacity="0.55"/>
<polygon points="247.14,788.32 244.26,788.20 245.81,785.76" fill="#8894ad" opacity="0.8"/>
<polygon points="243.16,794.31 240.57,794.94 241.32,792.38" fill="#e6eaf1" opacity="0.8"/>
<polygon points="248.84,796.83 245.61,796.76 247.29,794.00" fill="#9aa5bd" opacity="0.8"/>
<polygon points="252.44,790.11 253.57,791.67 251.64,791.87" fill="#5e6a86" opacity="0.8"/>
<polygon points="253.95,799.72 250.51,800.83 251.27,797.30" fill="#f4f6fa" opacity="0.8"/>
<polygon points="255.48,787.51 254.92,788.97 253.93,787.76" fill="#73809c" opacity="0.8"/>
<polygon points="250.35,798.81 250.82,795.95 253.06,797.79" fill="#e6eaf1" opacity="0.8"/>
<polygon points="250.60,783.98 250.40,786.58 248.25,785.11" fill="#ffffff" opacity="0.8"/>
<polygon points="248.26,783.40 249.32,785.98 246.56,785.61" fill="#525d78" opacity="0.8"/>
<polygon points="244.81,787.37 245.73,789.67 243.28,789.31" fill="#8894ad" opacity="0.8"/>
<polygon points="246.33,796.91 249.63,797.32 247.62,799.98" fill="#525d78" opacity="0.8"/>
<polygon points="254.10,792.24 257.13,792.04 255.79,794.77" fill="#5e6a86" opacity="0.8"/>
<polygon points="245.40,796.17 245.88,798.95 243.23,797.97" fill="#ffffff" opacity="0.8"/>
<polygon points="245.28,793.96 242.07,794.18 243.49,791.29" fill="#5e6a86" opacity="0.8"/>
<polygon points="241.89,790.59 240.09,787.94 243.28,787.70" fill="#9aa5bd" opacity="0.8"/>
<polygon points="255.05,791.86 255.31,794.86 252.59,793.58" fill="#ffffff" opacity="0.8"/>
<polygon points="249.06,782.63 251.43,783.69 249.33,785.21" fill="#ffffff" opacity="0.8"/>
<polygon points="250.24,794.45 251.72,795.63 249.95,796.32" fill="#f4f6fa" opacity="0.8"/>
<polygon points="254.39,794.95 252.84,793.23 255.11,792.75" fill="#73809c" opacity="0.8"/>
<polygon points="255.26,798.31 252.60,797.42 254.70,795.56" fill="#f4f6fa" opacity="0.8"/>
<polygon points="237.91,790.78 238.64,789.39 239.48,790.72" fill="#ffffff" opacity="0.8"/>
<polygon points="251.05,796.42 252.23,794.59 253.22,796.52" fill="#8894ad" opacity="0.8"/>
<polygon points="257.98,789.93 255.60,791.84 255.14,788.82" fill="#8894ad" opacity="0.8"/>
<polygon points="245.67,795.39 247.36,792.52 249.00,795.43" fill="#8894ad" opacity="0.8"/>
<polygon points="254.98,789.13 253.17,790.48 252.90,788.24" fill="#73809c" opacity="0.8"/>
<polygon points="255.89,793.50 253.01,793.95 254.06,791.24" fill="#ffffff" opacity="0.8"/>
<polygon points="241.52,787.10 239.69,789.96 238.13,786.94" fill="#5e6a86" opacity="0.8"/>
<polygon points="240.93,794.10 241.91,790.94 244.16,793.37" fill="#73809c" opacity="0.8"/>
<polygon points="248.48,796.29 250.37,795.88 249.78,797.73" fill="#5e6a86" opacity="0.8"/>
<polygon points="242.25,790.59 243.50,793.09 240.71,792.92" fill="#e6eaf1" opacity="0.8"/>
<polygon points="240.20,793.10 239.65,796.02 237.39,794.09" fill="#73809c" opacity="0.8"/>
<polygon points="242.01,791.00 241.43,789.44 243.06,789.72" fill="#525d78" opacity="0.8"/>
<polygon points="241.41,786.94 244.20,785.60 243.97,788.69" fill="#e6eaf1" opacity="0.8"/>
<polygon points="254.85,788.95 255.22,786.87 256.84,788.23" fill="#9aa5bd" opacity="0.8"/>
<polygon points="247.18,784.78 246.16,783.23 248.01,783.13" fill="#525d78" opacity="0.8"/>
<polygon points="254.99,792.83 252.63,792.83 253.81,790.79" fill="#e6eaf1" opacity="0.8"/>
<polygon points="245.82,798.99 243.22,799.46 244.12,796.97" fill="#e6eaf1" opacity="0.8"/>
<polygon points="241.85,787.49 243.62,786.67 243.45,788.61" fill="#9aa5bd" opacity="0.8"/>
<polygon points="252.30,792.10 254.67,791.51 254.00,793.85" fill="#9aa5bd" opacity="0.8"/>
<polygon points="239.88,791.18 241.37,789.55 242.04,791.66" fill="#e6eaf1" opacity="0.8"/>
<polygon points="250.68,793.52 252.15,795.08 250.07,795.57" fill="#e6eaf1" opacity="0.8"/>
<polygon points="253.96,797.15 251.68,796.87 253.06,795.04" fill="#f4f6fa" opacity="0.8"/>
<polygon points="246.68,795.07 245.15,795.67 245.40,794.04" fill="#e6eaf1" opacity="0.8"/>
<polygon points="239.63,790.25 238.84,786.75 242.26,787.82" fill="#8894ad" opacity="0.8"/>
<polygon points="251.41,787.99 254.00,789.48 251.41,790.98" fill="#f4f6fa" opacity="0.8"/>
<polygon points="248.15,799.00 249.12,797.56 249.89,799.12" fill="#e6eaf1" opacity="0.8"/>
<polygon points="241.02,793.75 239.97,790.42 243.38,791.17" fill="#525d78" opacity="0.8"/>
<polygon points="250.10,798.81 250.89,800.63 248.92,800.40" fill="#f4f6fa" opacity="0.8"/>
<polygon points="245.31,788.59 245.41,786.84 246.88,787.79" fill="#ffffff" opacity="0.8"/>
<polygon points="251.29,784.72 251.03,786.80 249.36,785.54" fill="#9aa5bd" opacity="0.8"/>
<polygon points="246.94,791.24 247.40,788.92 249.19,790.48" fill="#8894ad" opacity="0.8"/>
<polygon points="253.42,787.96 253.23,790.29 251.30,788.95" fill="#9aa5bd" opacity="0.8"/>
<polygon points="259.30,808.40 259.20,809.25 258.90,810.08 258.36,810.86 257.61,811.58 256.67,812.20 255.62,812.72 254.50,813.17 253.35,813.57 252.18,813.94 250.97,814.30 249.69,814.65 248.30,814.90 246.91,814.65 245.63,814.30 244.42,813.94 243.25,813.57 242.10,813.17 240.98,812.72 239.93,812.20 238.99,811.58 238.24,810.86 237.70,810.08 237.40,809.25 237.30,808.40 237.40,807.55 237.70,806.72 238.24,805.94 238.99,805.22 239.93,804.60 240.98,804.08 242.10,803.63 243.25,803.23 244.42,802.86 245.63,802.50 246.91,802.15 248.30,801.90 249.69,802.15 250.97,802.50 252.18,802.86 253.35,803.23 254.50,803.63 255.62,804.08 256.67,804.60 257.61,805.22 258.36,805.94 258.90,806.72 259.20,807.55" fill="#d3d9e4" stroke="#6e4a1c" stroke-width="0.7" stroke-opacity="0.55"/>
<polygon points="244.16,809.20 242.22,809.97 242.53,807.90" fill="#f4f6fa" opacity="0.8"/>
<polygon points="246.21,810.33 246.45,812.49 244.46,811.62" fill="#5e6a86" opacity="0.8"/>
<polygon points="245.65,804.89 244.76,806.98 243.40,805.16" fill="#5e6a86" opacity="0.8"/>
<polygon points="238.82,804.57 241.86,805.44 239.59,807.64" fill="#f4f6fa" opacity="0.8"/>
<polygon points="243.69,809.25 243.74,811.38 241.86,810.35" fill="#f4f6fa" opacity="0.8"/>
<polygon points="242.23,812.74 240.68,812.21 241.91,811.13" fill="#ffffff" opacity="0.8"/>
<polygon points="248.80,812.51 246.45,813.48 246.78,810.96" fill="#73809c" opacity="0.8"/>
<polygon points="246.55,811.09 248.41,810.31 248.15,812.31" fill="#f4f6fa" opacity="0.8"/>
<polygon points="249.77,807.09 249.50,809.78 247.31,808.21" fill="#f4f6fa" opacity="0.8"/>
<polygon points="255.19,809.01 257.84,811.13 254.67,812.36" fill="#ffffff" opacity="0.8"/>
<polygon points="248.35,809.34 248.62,810.91 247.12,810.37" fill="#73809c" opacity="0.8"/>
<polygon points="246.57,802.17 246.77,805.73 243.59,804.12" fill="#5e6a86" opacity="0.8"/>
<polygon points="243.85,814.25 243.05,811.12 246.17,811.99" fill="#ffffff" opacity="0.8"/>
<polygon points="246.59,814.69 245.07,812.49 247.73,812.27" fill="#8894ad" opacity="0.8"/>
<polygon points="242.95,810.01 244.92,812.86 241.46,813.14" fill="#8894ad" opacity="0.8"/>
<polygon points="256.17,809.88 255.68,806.51 258.84,807.77" fill="#f4f6fa" opacity="0.8"/>
<polygon points="239.79,807.38 241.38,807.78 240.25,808.96" fill="#ffffff" opacity="0.8"/>
<polygon points="248.60,807.39 250.46,806.44 250.36,808.52" fill="#e6eaf1" opacity="0.8"/>
<polygon points="247.61,811.66 249.49,813.02 247.37,813.97" fill="#5e6a86" opacity="0.8"/>
<polygon points="245.03,810.96 245.13,814.27 242.22,812.70" fill="#e6eaf1" opacity="0.8"/>
<polygon points="255.82,806.88 256.83,808.40 255.01,808.51" fill="#525d78" opacity="0.8"/>
<polygon points="248.71,805.33 250.72,806.53 248.67,807.67" fill="#8894ad" opacity="0.8"/>
<polygon points="242.36,802.49 244.32,804.11 241.93,804.99" fill="#9aa5bd" opacity="0.8"/>
<polygon points="247.13,810.27 248.94,811.31 247.14,812.36" fill="#e6eaf1" opacity="0.8"/>
<polygon points="256.74,805.19 257.87,806.40 256.26,806.78" fill="#525d78" opacity="0.8"/>
<polygon points="249.90,806.28 252.11,805.64 251.56,807.88" fill="#525d78" opacity="0.8"/>
<polygon points="241.99,809.92 241.53,813.18 238.94,811.16" fill="#5e6a86" opacity="0.8"/>
<polygon points="245.58,809.06 245.47,812.28 242.73,810.57" fill="#9aa5bd" opacity="0.8"/>
<polygon points="250.51,814.20 248.26,813.33 250.13,811.82" fill="#e6eaf1" opacity="0.8"/>
<polygon points="242.69,809.93 243.25,812.56 240.68,811.73" fill="#9aa5bd" opacity="0.8"/>
<polygon points="241.42,809.28 240.36,811.78 238.72,809.62" fill="#e6eaf1" opacity="0.8"/>
<polygon points="244.67,811.25 243.35,808.11 246.72,808.54" fill="#e6eaf1" opacity="0.8"/>
<path d="M242,816 L254.5,816 L259,826 Q257,834 248.3,834.5 Q239.5,834 237.5,826 Z" fill="#d3d9e4" stroke="#6e4a1c" stroke-width="0.7" stroke-opacity="0.55"/>
<polygon points="252.50,830.52 251.19,828.84 253.30,828.54" fill="#e6eaf1" opacity="0.8"/>
<polygon points="251.06,831.18 248.58,830.05 250.80,828.48" fill="#5e6a86" opacity="0.8"/>
<polygon points="252.28,823.50 250.88,822.49 252.45,821.79" fill="#e6eaf1" opacity="0.8"/>
<polygon points="251.21,830.87 252.86,827.65 254.83,830.69" fill="#73809c" opacity="0.8"/>
<polygon points="243.23,828.67 240.88,829.05 241.73,826.83" fill="#f4f6fa" opacity="0.8"/>
<polygon points="243.19,821.90 241.55,820.62 243.48,819.83" fill="#9aa5bd" opacity="0.8"/>
<polygon points="254.43,818.57 254.42,821.05 252.28,819.80" fill="#73809c" opacity="0.8"/>
<polygon points="249.71,826.76 247.85,826.34 249.15,824.94" fill="#8894ad" opacity="0.8"/>
<polygon points="249.58,826.67 246.89,827.01 247.93,824.51" fill="#f4f6fa" opacity="0.8"/>
<polygon points="254.11,825.35 250.92,826.91 251.16,823.37" fill="#ffffff" opacity="0.8"/>
<polygon points="245.91,828.48 248.87,826.64 248.98,830.12" fill="#9aa5bd" opacity="0.8"/>
<polygon points="252.56,818.88 249.98,820.70 249.70,817.55" fill="#525d78" opacity="0.8"/>
<polygon points="251.96,824.16 253.46,821.22 255.26,823.99" fill="#5e6a86" opacity="0.8"/>
<polygon points="251.17,823.88 252.59,825.61 250.38,825.97" fill="#ffffff" opacity="0.8"/>
<polygon points="243.35,818.78 245.53,819.56 243.76,821.06" fill="#f4f6fa" opacity="0.8"/>
<polygon points="246.09,825.71 249.00,825.91 247.38,828.33" fill="#525d78" opacity="0.8"/>
<polygon points="244.65,828.99 245.72,830.67 243.73,830.76" fill="#f4f6fa" opacity="0.8"/>
<polygon points="247.78,829.05 245.73,828.05 247.62,826.78" fill="#f4f6fa" opacity="0.8"/>
<polygon points="244.21,828.66 245.59,827.89 245.56,829.47" fill="#e6eaf1" opacity="0.8"/>
<polygon points="255.08,826.88 256.52,829.86 253.23,829.62" fill="#5e6a86" opacity="0.8"/>
<polygon points="253.11,823.46 250.02,822.97 251.99,820.54" fill="#ffffff" opacity="0.8"/>
<polygon points="240.02,828.52 240.93,826.73 242.03,828.42" fill="#5e6a86" opacity="0.8"/>
<polygon points="250.34,822.66 249.10,824.68 247.97,822.59" fill="#5e6a86" opacity="0.8"/>
<polygon points="249.22,819.15 250.17,820.41 248.60,820.61" fill="#e6eaf1" opacity="0.8"/>
<polygon points="249.02,825.49 249.22,822.66 251.58,824.25" fill="#f4f6fa" opacity="0.8"/>
<polygon points="250.97,820.07 253.57,819.81 252.49,822.19" fill="#525d78" opacity="0.8"/>
<polygon points="251.76,829.81 253.63,827.34 254.84,830.19" fill="#f4f6fa" opacity="0.8"/>
<polygon points="242.89,826.39 244.91,826.61 243.71,828.25" fill="#e6eaf1" opacity="0.8"/>
<polygon points="254.45,827.21 256.25,825.26 257.04,827.79" fill="#9aa5bd" opacity="0.8"/>
<polygon points="244.18,823.69 241.01,822.23 243.86,820.21" fill="#f4f6fa" opacity="0.8"/>
<polygon points="246.96,829.62 244.71,827.87 247.35,826.79" fill="#e6eaf1" opacity="0.8"/>
<polygon points="254.86,826.10 251.63,825.19 254.03,822.84" fill="#e6eaf1" opacity="0.8"/>
<polygon points="251.52,824.98 252.46,828.33 249.09,827.47" fill="#9aa5bd" opacity="0.8"/>
<polygon points="253.32,819.50 251.11,820.90 251.00,818.28" fill="#8894ad" opacity="0.8"/>
<path d="M234.5,784.4 q3.5,-1.6 7,0" stroke="#2e200c" stroke-width="1.4" fill="none"/><path d="M255,784.4 q3.5,-1.6 7,0" stroke="#2e200c" stroke-width="1.4" fill="none"/>
<path d="M234.5,804.4 q3.5,-1.6 7,0" stroke="#2e200c" stroke-width="1.4" fill="none"/><path d="M255,804.4 q3.5,-1.6 7,0" stroke="#2e200c" stroke-width="1.4" fill="none"/>
<ellipse cx="258.5" cy="803.5" rx="2.2" ry="3.2" fill="#3d2a10" opacity="0.75"/>
<path d="M241,834 Q248,837 255.5,834" stroke="#ffffff" stroke-width="1.5" fill="none" opacity="0.8"/>
<rect x="224" y="708.3" width="48.5" height="51.5" fill="url(#goldv)"/>
<circle cx="224.8" cy="709.5" r="1.6" fill="#e8c45e" stroke="#9a7028" stroke-width="0.4"/>
<circle cx="240.3" cy="709.5" r="1.6" fill="#e8c45e" stroke="#9a7028" stroke-width="0.4"/>
<circle cx="256.5" cy="709.5" r="1.6" fill="#e8c45e" stroke="#9a7028" stroke-width="0.4"/>
<circle cx="271.7" cy="709.5" r="1.6" fill="#e8c45e" stroke="#9a7028" stroke-width="0.4"/>
<circle cx="224.8" cy="726" r="1.6" fill="#e8c45e" stroke="#9a7028" stroke-width="0.4"/>
<circle cx="240.3" cy="726" r="1.6" fill="#e8c45e" stroke="#9a7028" stroke-width="0.4"/>
<circle cx="256.5" cy="726" r="1.6" fill="#e8c45e" stroke="#9a7028" stroke-width="0.4"/>
<circle cx="271.7" cy="726" r="1.6" fill="#e8c45e" stroke="#9a7028" stroke-width="0.4"/>
<circle cx="224.8" cy="742.2" r="1.6" fill="#e8c45e" stroke="#9a7028" stroke-width="0.4"/>
<circle cx="240.3" cy="742.2" r="1.6" fill="#e8c45e" stroke="#9a7028" stroke-width="0.4"/>
<circle cx="256.5" cy="742.2" r="1.6" fill="#e8c45e" stroke="#9a7028" stroke-width="0.4"/>
<circle cx="271.7" cy="742.2" r="1.6" fill="#e8c45e" stroke="#9a7028" stroke-width="0.4"/>
<circle cx="224.8" cy="758.7" r="1.6" fill="#e8c45e" stroke="#9a7028" stroke-width="0.4"/>
<circle cx="240.3" cy="758.7" r="1.6" fill="#e8c45e" stroke="#9a7028" stroke-width="0.4"/>
<circle cx="256.5" cy="758.7" r="1.6" fill="#e8c45e" stroke="#9a7028" stroke-width="0.4"/>
<circle cx="271.7" cy="758.7" r="1.6" fill="#e8c45e" stroke="#9a7028" stroke-width="0.4"/>
<polygon points="240.50,717.70 240.43,718.77 240.21,719.82 239.85,720.83 239.35,721.77 238.72,722.63 237.99,723.39 237.18,724.06 236.31,724.64 235.38,725.12 234.39,725.51 233.36,725.78 232.30,725.90 231.24,725.78 230.21,725.51 229.22,725.12 228.29,724.64 227.42,724.06 226.61,723.39 225.88,722.63 225.25,721.77 224.75,720.83 224.39,719.82 224.17,718.77 224.10,717.70 224.17,716.63 224.39,715.58 224.75,714.57 225.25,713.63 225.88,712.77 226.61,712.01 227.42,711.34 228.29,710.76 229.22,710.28 230.21,709.89 231.24,709.62 232.30,709.50 233.36,709.62 234.39,709.89 235.38,710.28 236.31,710.76 237.18,711.34 237.99,712.01 238.72,712.77 239.35,713.63 239.85,714.57 240.21,715.58 240.43,716.63" fill="#d3d9e4" stroke="#6e4a1c" stroke-width="0.7" stroke-opacity="0.55"/>
<polygon points="231.55,718.83 233.63,717.92 233.38,720.18" fill="#f4f6fa" opacity="0.8"/>
<polygon points="227.96,721.01 225.41,718.83 228.57,717.71" fill="#525d78" opacity="0.8"/>
<polygon points="234.71,717.25 235.82,715.86 236.47,717.52" fill="#e6eaf1" opacity="0.8"/>
<polygon points="235.07,716.88 232.52,717.33 233.41,714.89" fill="#f4f6fa" opacity="0.8"/>
<polygon points="234.86,715.51 235.34,718.99 232.08,717.66" fill="#5e6a86" opacity="0.8"/>
<polygon points="234.27,717.52 233.82,719.75 232.11,718.24" fill="#9aa5bd" opacity="0.8"/>
<polygon points="235.34,718.63 235.10,720.98 233.18,719.60" fill="#f4f6fa" opacity="0.8"/>
<polygon points="234.41,718.61 231.83,716.08 235.31,715.11" fill="#ffffff" opacity="0.8"/>
<polygon points="236.07,712.47 237.76,713.47 236.05,714.44" fill="#ffffff" opacity="0.8"/>
<polygon points="228.65,720.70 228.43,723.71 225.94,722.02" fill="#525d78" opacity="0.8"/>
<polygon points="230.65,713.84 231.47,715.66 229.48,715.45" fill="#5e6a86" opacity="0.8"/>
<polygon points="231.41,713.85 229.62,713.48 230.84,712.12" fill="#f4f6fa" opacity="0.8"/>
<polygon points="230.16,714.96 228.49,715.99 228.43,714.03" fill="#73809c" opacity="0.8"/>
<polygon points="230.87,714.15 231.87,712.18 233.07,714.03" fill="#9aa5bd" opacity="0.8"/>
<polygon points="234.57,718.41 236.87,718.84 235.35,720.62" fill="#525d78" opacity="0.8"/>
<polygon points="226.28,720.72 226.56,717.22 229.45,719.22" fill="#ffffff" opacity="0.8"/>
<polygon points="233.67,722.19 233.15,724.28 231.60,722.78" fill="#9aa5bd" opacity="0.8"/>
<polygon points="234.45,718.77 232.63,716.50 235.50,716.06" fill="#e6eaf1" opacity="0.8"/>
<polygon points="226.10,722.19 227.96,720.08 228.86,722.75" fill="#8894ad" opacity="0.8"/>
<polygon points="228.68,719.40 231.15,720.66 228.82,722.17" fill="#525d78" opacity="0.8"/>
<polygon points="230.78,725.11 229.22,722.60 232.17,722.50" fill="#ffffff" opacity="0.8"/>
<polygon points="226.96,722.83 228.09,719.66 230.26,722.23" fill="#525d78" opacity="0.8"/>
<polygon points="227.18,722.06 230.51,722.21 228.71,725.02" fill="#f4f6fa" opacity="0.8"/>
<polygon points="229.96,712.59 230.50,714.51 228.57,714.01" fill="#5e6a86" opacity="0.8"/>
<polygon points="227.10,723.40 227.29,720.46 229.74,722.10" fill="#5e6a86" opacity="0.8"/>
<polygon points="231.39,716.13 229.93,715.24 231.43,714.42" fill="#ffffff" opacity="0.8"/>
<polygon points="231.55,722.72 229.42,724.56 228.90,721.79" fill="#5e6a86" opacity="0.8"/>
<polygon points="235.65,715.96 238.64,717.29 235.99,719.22" fill="#525d78" opacity="0.8"/>
<polygon points="232.95,718.52 233.99,716.22 235.46,718.28" fill="#73809c" opacity="0.8"/>
<polygon points="227.63,715.78 227.68,718.37 225.41,717.12" fill="#ffffff" opacity="0.8"/>
<polygon points="256.50,717.70 256.43,718.77 256.21,719.82 255.85,720.83 255.35,721.77 254.72,722.63 253.99,723.39 253.18,724.06 252.31,724.64 251.38,725.12 250.39,725.51 249.36,725.78 248.30,725.90 247.24,725.78 246.21,725.51 245.22,725.12 244.29,724.64 243.42,724.06 242.61,723.39 241.88,722.63 241.25,721.77 240.75,720.83 240.39,719.82 240.17,718.77 240.10,717.70 240.17,716.63 240.39,715.58 240.75,714.57 241.25,713.63 241.88,712.77 242.61,712.01 243.42,711.34 244.29,710.76 245.22,710.28 246.21,709.89 247.24,709.62 248.30,709.50 249.36,709.62 250.39,709.89 251.38,710.28 252.31,710.76 253.18,711.34 253.99,712.01 254.72,712.77 255.35,713.63 255.85,714.57 256.21,715.58 256.43,716.63" fill="#d3d9e4" stroke="#6e4a1c" stroke-width="0.7" stroke-opacity="0.55"/>
<polygon points="243.97,722.33 242.48,721.46 243.98,720.59" fill="#525d78" opacity="0.8"/>
<polygon points="245.77,710.74 244.98,713.15 243.28,711.26" fill="#ffffff" opacity="0.8"/>
<polygon points="249.24,717.21 247.09,719.78 245.95,716.63" fill="#5e6a86" opacity="0.8"/>
<polygon points="253.39,720.33 251.28,722.06 250.84,719.37" fill="#525d78" opacity="0.8"/>
<polygon points="245.73,722.06 247.54,721.88 246.79,723.54" fill="#9aa5bd" opacity="0.8"/>
<polygon points="244.89,714.39 245.16,712.20 246.92,713.53" fill="#8894ad" opacity="0.8"/>
<polygon points="248.59,723.21 247.48,721.96 249.11,721.63" fill="#f4f6fa" opacity="0.8"/>
<polygon points="250.26,719.08 249.52,720.77 248.43,719.29" fill="#ffffff" opacity="0.8"/>
<polygon points="250.96,724.33 252.14,721.95 253.61,724.16" fill="#525d78" opacity="0.8"/>
<polygon points="248.12,717.09 248.30,718.96 246.59,718.18" fill="#e6eaf1" opacity="0.8"/>
<polygon points="251.89,722.61 250.29,722.33 251.32,721.09" fill="#9aa5bd" opacity="0.8"/>
<polygon points="253.05,713.16 254.16,716.10 251.06,715.60" fill="#e6eaf1" opacity="0.8"/>
<polygon points="247.51,719.48 245.44,719.11 246.80,717.51" fill="#ffffff" opacity="0.8"/>
<polygon points="247.22,720.97 246.26,723.72 244.35,721.52" fill="#9aa5bd" opacity="0.8"/>
<polygon points="242.16,716.84 243.45,713.65 245.56,716.36" fill="#9aa5bd" opacity="0.8"/>
<polygon points="248.70,723.76 246.69,723.74 247.71,722.00" fill="#e6eaf1" opacity="0.8"/>
<polygon points="244.98,722.36 242.78,721.89 244.29,720.22" fill="#9aa5bd" opacity="0.8"/>
<polygon points="247.74,715.73 250.33,715.14 249.55,717.68" fill="#e6eaf1" opacity="0.8"/>
<polygon points="252.46,712.75 249.57,713.71 250.19,710.73" fill="#f4f6fa" opacity="0.8"/>
<polygon points="243.12,718.18 245.68,716.42 245.93,719.52" fill="#5e6a86" opacity="0.8"/>
<polygon points="244.08,720.66 245.49,721.74 243.85,722.42" fill="#f4f6fa" opacity="0.8"/>
<polygon points="251.37,717.84 251.99,715.11 254.04,717.01" fill="#9aa5bd" opacity="0.8"/>
<polygon points="250.24,724.59 248.89,723.60 250.42,722.92" fill="#525d78" opacity="0.8"/>
<polygon points="242.97,717.60 241.30,717.51 242.22,716.11" fill="#525d78" opacity="0.8"/>
<polygon points="241.68,712.68 244.92,714.05 242.11,716.17" fill="#f4f6fa" opacity="0.8"/>
<polygon points="246.67,720.76 243.70,720.72 245.22,718.17" fill="#8894ad" opacity="0.8"/>
<polygon points="250.83,712.99 251.03,715.20 249.02,714.27" fill="#9aa5bd" opacity="0.8"/>
<polygon points="248.97,716.92 245.91,717.61 246.84,714.61" fill="#8894ad" opacity="0.8"/>
<polygon points="243.47,715.73 240.80,716.81 241.20,713.96" fill="#73809c" opacity="0.8"/>
<polygon points="246.28,718.32 247.85,715.66 249.37,718.35" fill="#8894ad" opacity="0.8"/>
<polygon points="272.90,717.70 272.83,718.77 272.61,719.82 272.25,720.83 271.75,721.77 271.12,722.63 270.39,723.39 269.58,724.06 268.71,724.64 267.78,725.12 266.79,725.51 265.76,725.78 264.70,725.90 263.64,725.78 262.61,725.51 261.62,725.12 260.69,724.64 259.82,724.06 259.01,723.39 258.28,722.63 257.65,721.77 257.15,720.83 256.79,719.82 256.57,718.77 256.50,717.70 256.57,716.63 256.79,715.58 257.15,714.57 257.65,713.63 258.28,712.77 259.01,712.01 259.82,711.34 260.69,710.76 261.62,710.28 262.61,709.89 263.64,709.62 264.70,709.50 265.76,709.62 266.79,709.89 267.78,710.28 268.71,710.76 269.58,711.34 270.39,712.01 271.12,712.77 271.75,713.63 272.25,714.57 272.61,715.58 272.83,716.63" fill="#d3d9e4" stroke="#6e4a1c" stroke-width="0.7" stroke-opacity="0.55"/>
<polygon points="266.76,720.84 263.96,719.80 266.26,717.90" fill="#f4f6fa" opacity="0.8"/>
<polygon points="263.04,711.13 262.07,713.42 260.57,711.44" fill="#8894ad" opacity="0.8"/>
<polygon points="268.90,710.57 268.93,712.87 266.92,711.75" fill="#525d78" opacity="0.8"/>
<polygon points="262.41,712.00 265.12,713.27 262.67,714.99" fill="#525d78" opacity="0.8"/>
<polygon points="266.22,715.85 268.54,715.15 267.99,717.51" fill="#525d78" opacity="0.8"/>
<polygon points="267.89,719.94 266.96,722.15 265.51,720.24" fill="#e6eaf1" opacity="0.8"/>
<polygon points="265.15,723.94 266.72,721.88 267.72,724.27" fill="#e6eaf1" opacity="0.8"/>
<polygon points="260.74,716.11 260.37,718.79 258.24,717.13" fill="#e6eaf1" opacity="0.8"/>
<polygon points="263.22,716.93 266.19,718.29 263.53,720.19" fill="#e6eaf1" opacity="0.8"/>
<polygon points="259.18,714.30 261.54,714.17 260.48,716.28" fill="#f4f6fa" opacity="0.8"/>
<polygon points="262.75,721.74 260.71,723.28 260.40,720.74" fill="#ffffff" opacity="0.8"/>
<polygon points="267.91,721.71 268.22,718.85 270.54,720.56" fill="#ffffff" opacity="0.8"/>
<polygon points="261.93,715.19 262.02,716.88 260.52,716.12" fill="#e6eaf1" opacity="0.8"/>
<polygon points="266.66,721.77 263.24,722.16 264.61,719.00" fill="#5e6a86" opacity="0.8"/>
<polygon points="269.95,716.79 272.01,715.36 272.22,717.86" fill="#8894ad" opacity="0.8"/>
<polygon points="265.17,722.84 267.74,721.37 267.73,724.34" fill="#9aa5bd" opacity="0.8"/>
<polygon points="268.99,718.49 271.68,717.95 270.81,720.55" fill="#ffffff" opacity="0.8"/>
<polygon points="258.68,719.63 259.21,716.09 262.01,718.31" fill="#9aa5bd" opacity="0.8"/>
<polygon points="270.20,722.43 268.70,721.09 270.61,720.45" fill="#f4f6fa" opacity="0.8"/>
<polygon points="264.78,714.57 263.29,713.39 265.06,712.69" fill="#5e6a86" opacity="0.8"/>
<polygon points="269.07,714.97 269.65,712.03 271.90,714.00" fill="#9aa5bd" opacity="0.8"/>
<polygon points="261.26,714.96 257.72,714.35 260.02,711.58" fill="#f4f6fa" opacity="0.8"/>
<polygon points="269.54,719.52 269.02,717.50 271.03,718.06" fill="#525d78" opacity="0.8"/>
<polygon points="262.30,716.52 260.68,717.10 260.99,715.41" fill="#525d78" opacity="0.8"/>
<polygon points="267.89,715.51 268.06,717.87 265.93,716.83" fill="#f4f6fa" opacity="0.8"/>
<polygon points="267.93,711.77 269.51,713.95 266.83,714.22" fill="#f4f6fa" opacity="0.8"/>
<polygon points="263.68,710.52 266.30,711.46 264.17,713.26" fill="#9aa5bd" opacity="0.8"/>
<polygon points="271.49,718.70 272.15,720.92 269.90,720.38" fill="#8894ad" opacity="0.8"/>
<polygon points="259.14,719.69 257.61,718.00 259.83,717.52" fill="#ffffff" opacity="0.8"/>
<polygon points="265.66,724.60 262.27,724.77 263.82,721.74" fill="#f4f6fa" opacity="0.8"/>
<polygon points="240.50,734.00 240.43,735.07 240.21,736.12 239.85,737.13 239.35,738.07 238.72,738.93 237.99,739.69 237.18,740.36 236.31,740.94 235.38,741.42 234.39,741.81 233.36,742.08 232.30,742.20 231.24,742.08 230.21,741.81 229.22,741.42 228.29,740.94 227.42,740.36 226.61,739.69 225.88,738.93 225.25,738.07 224.75,737.13 224.39,736.12 224.17,735.07 224.10,734.00 224.17,732.93 224.39,731.88 224.75,730.87 225.25,729.93 225.88,729.07 226.61,728.31 227.42,727.64 228.29,727.06 229.22,726.58 230.21,726.19 231.24,725.92 232.30,725.80 233.36,725.92 234.39,726.19 235.38,726.58 236.31,727.06 237.18,727.64 237.99,728.31 238.72,729.07 239.35,729.93 239.85,730.87 240.21,731.88 240.43,732.93" fill="#d3d9e4" stroke="#6e4a1c" stroke-width="0.7" stroke-opacity="0.55"/>
<polygon points="239.12,739.13 236.20,739.35 237.48,736.71" fill="#5e6a86" opacity="0.8"/>
<polygon points="237.62,737.12 236.12,738.13 236.00,736.33" fill="#9aa5bd" opacity="0.8"/>
<polygon points="229.64,734.37 232.72,736.10 229.69,737.90" fill="#9aa5bd" opacity="0.8"/>
<polygon points="236.75,733.09 239.64,735.24 236.33,736.66" fill="#ffffff" opacity="0.8"/>
<polygon points="229.24,733.65 226.27,733.60 227.80,731.05" fill="#f4f6fa" opacity="0.8"/>
<polygon points="228.68,730.73 225.31,730.34 227.33,727.62" fill="#9aa5bd" opacity="0.8"/>
<polygon points="228.93,733.65 231.46,733.24 230.55,735.64" fill="#f4f6fa" opacity="0.8"/>
<polygon points="238.24,738.76 236.87,737.18 238.92,736.78" fill="#525d78" opacity="0.8"/>
<polygon points="240.62,730.45 238.69,733.41 237.10,730.26" fill="#ffffff" opacity="0.8"/>
<polygon points="231.97,732.80 234.55,732.92 233.16,735.09" fill="#e6eaf1" opacity="0.8"/>
<polygon points="229.81,731.43 226.31,731.36 228.12,728.36" fill="#ffffff" opacity="0.8"/>
<polygon points="235.73,740.65 235.34,738.91 237.04,739.44" fill="#9aa5bd" opacity="0.8"/>
<polygon points="233.81,732.88 233.85,734.51 232.42,733.73" fill="#ffffff" opacity="0.8"/>
<polygon points="237.32,729.74 234.37,729.75 235.84,727.19" fill="#f4f6fa" opacity="0.8"/>
<polygon points="239.10,734.83 239.10,738.41 235.99,736.62" fill="#ffffff" opacity="0.8"/>
<polygon points="231.44,735.87 230.49,738.04 229.08,736.14" fill="#8894ad" opacity="0.8"/>
<polygon points="231.10,740.73 231.13,738.08 233.41,739.44" fill="#f4f6fa" opacity="0.8"/>
<polygon points="229.88,736.71 227.04,734.85 230.07,733.32" fill="#9aa5bd" opacity="0.8"/>
<polygon points="234.46,738.06 233.43,739.80 232.44,738.04" fill="#5e6a86" opacity="0.8"/>
<polygon points="231.52,739.56 233.47,738.78 233.17,740.85" fill="#525d78" opacity="0.8"/>
<polygon points="232.52,734.04 230.32,734.28 231.21,732.26" fill="#ffffff" opacity="0.8"/>
<polygon points="229.83,737.66 230.62,740.51 227.75,739.77" fill="#f4f6fa" opacity="0.8"/>
<polygon points="235.81,737.77 237.44,735.74 238.38,738.18" fill="#73809c" opacity="0.8"/>
<polygon points="225.40,738.68 225.74,736.37 227.56,737.82" fill="#8894ad" opacity="0.8"/>
<polygon points="236.97,732.71 237.47,734.48 235.69,734.02" fill="#8894ad" opacity="0.8"/>
<polygon points="228.67,740.69 227.99,738.44 230.28,738.98" fill="#e6eaf1" opacity="0.8"/>
<polygon points="235.80,732.27 234.10,735.43 232.22,732.38" fill="#73809c" opacity="0.8"/>
<polygon points="228.76,733.53 227.93,735.01 227.07,733.55" fill="#9aa5bd" opacity="0.8"/>
<polygon points="235.11,736.65 233.50,734.63 236.05,734.24" fill="#ffffff" opacity="0.8"/>
<polygon points="228.32,738.70 229.58,740.06 227.77,740.47" fill="#73809c" opacity="0.8"/>
<polygon points="256.50,734.00 256.43,735.07 256.21,736.12 255.85,737.13 255.35,738.07 254.72,738.93 253.99,739.69 253.18,740.36 252.31,740.94 251.38,741.42 250.39,741.81 249.36,742.08 248.30,742.20 247.24,742.08 246.21,741.81 245.22,741.42 244.29,740.94 243.42,740.36 242.61,739.69 241.88,738.93 241.25,738.07 240.75,737.13 240.39,736.12 240.17,735.07 240.10,734.00 240.17,732.93 240.39,731.88 240.75,730.87 241.25,729.93 241.88,729.07 242.61,728.31 243.42,727.64 244.29,727.06 245.22,726.58 246.21,726.19 247.24,725.92 248.30,725.80 249.36,725.92 250.39,726.19 251.38,726.58 252.31,727.06 253.18,727.64 253.99,728.31 254.72,729.07 255.35,729.93 255.85,730.87 256.21,731.88 256.43,732.93" fill="#d3d9e4" stroke="#6e4a1c" stroke-width="0.7" stroke-opacity="0.55"/>
<polygon points="250.49,735.29 249.59,738.12 247.59,735.93" fill="#f4f6fa" opacity="0.8"/>
<polygon points="245.45,740.08 242.24,738.74 245.01,736.63" fill="#8894ad" opacity="0.8"/>
<polygon points="255.54,734.57 252.67,733.84 254.74,731.72" fill="#ffffff" opacity="0.8"/>
<polygon points="247.84,735.89 250.39,735.18 249.73,737.75" fill="#e6eaf1" opacity="0.8"/>
<polygon points="243.36,736.92 241.26,736.80 242.41,735.04" fill="#8894ad" opacity="0.8"/>
<polygon points="256.98,733.87 254.85,736.76 253.41,733.48" fill="#ffffff" opacity="0.8"/>
<polygon points="252.35,741.44 249.49,741.05 251.26,738.77" fill="#e6eaf1" opacity="0.8"/>
<polygon points="249.00,726.37 251.50,726.68 249.98,728.69" fill="#e6eaf1" opacity="0.8"/>
<polygon points="247.29,734.39 244.51,736.56 244.02,733.07" fill="#5e6a86" opacity="0.8"/>
<polygon points="242.96,737.55 242.10,735.01 244.74,735.54" fill="#73809c" opacity="0.8"/>
<polygon points="252.28,739.54 250.44,740.32 250.68,738.33" fill="#8894ad" opacity="0.8"/>
<polygon points="243.62,737.83 240.81,738.19 241.91,735.58" fill="#5e6a86" opacity="0.8"/>
<polygon points="249.88,735.12 247.77,735.69 248.33,733.58" fill="#525d78" opacity="0.8"/>
<polygon points="251.36,731.38 249.88,728.78 252.87,728.80" fill="#ffffff" opacity="0.8"/>
<polygon points="248.44,735.29 251.15,735.79 249.36,737.90" fill="#ffffff" opacity="0.8"/>
<polygon points="244.75,732.13 243.66,734.10 242.50,732.17" fill="#8894ad" opacity="0.8"/>
<polygon points="244.77,727.32 247.81,728.86 244.95,730.72" fill="#f4f6fa" opacity="0.8"/>
<polygon points="241.86,734.70 240.02,733.57 241.92,732.55" fill="#ffffff" opacity="0.8"/>
<polygon points="249.84,739.05 248.60,740.47 247.99,738.69" fill="#9aa5bd" opacity="0.8"/>
<polygon points="243.77,729.78 245.01,728.83 245.22,730.39" fill="#525d78" opacity="0.8"/>
<polygon points="240.38,735.16 241.12,732.64 242.94,734.55" fill="#5e6a86" opacity="0.8"/>
<polygon points="246.81,728.93 246.59,731.52 244.46,730.04" fill="#e6eaf1" opacity="0.8"/>
<polygon points="244.74,734.67 246.83,733.13 247.12,735.70" fill="#9aa5bd" opacity="0.8"/>
<polygon points="253.23,734.02 250.75,734.00 252.00,731.87" fill="#73809c" opacity="0.8"/>
<polygon points="248.88,742.29 247.35,739.46 250.56,739.55" fill="#ffffff" opacity="0.8"/>
<polygon points="252.55,736.96 250.87,737.07 251.61,735.56" fill="#e6eaf1" opacity="0.8"/>
<polygon points="248.92,737.22 251.49,735.80 251.44,738.74" fill="#73809c" opacity="0.8"/>
<polygon points="244.30,730.67 243.76,728.24 246.13,728.99" fill="#9aa5bd" opacity="0.8"/>
<polygon points="246.43,726.55 246.88,729.55 244.05,728.44" fill="#5e6a86" opacity="0.8"/>
<polygon points="253.61,737.78 250.66,738.52 251.49,735.60" fill="#5e6a86" opacity="0.8"/>
<polygon points="272.90,734.00 272.83,735.07 272.61,736.12 272.25,737.13 271.75,738.07 271.12,738.93 270.39,739.69 269.58,740.36 268.71,740.94 267.78,741.42 266.79,741.81 265.76,742.08 264.70,742.20 263.64,742.08 262.61,741.81 261.62,741.42 260.69,740.94 259.82,740.36 259.01,739.69 258.28,738.93 257.65,738.07 257.15,737.13 256.79,736.12 256.57,735.07 256.50,734.00 256.57,732.93 256.79,731.88 257.15,730.87 257.65,729.93 258.28,729.07 259.01,728.31 259.82,727.64 260.69,727.06 261.62,726.58 262.61,726.19 263.64,725.92 264.70,725.80 265.76,725.92 266.79,726.19 267.78,726.58 268.71,727.06 269.58,727.64 270.39,728.31 271.12,729.07 271.75,729.93 272.25,730.87 272.61,731.88 272.83,732.93" fill="#d3d9e4" stroke="#6e4a1c" stroke-width="0.7" stroke-opacity="0.55"/>
<polygon points="269.34,731.28 271.69,732.23 269.70,733.79" fill="#e6eaf1" opacity="0.8"/>
<polygon points="269.41,730.81 270.87,731.66 269.40,732.50" fill="#525d78" opacity="0.8"/>
<polygon points="264.43,739.17 263.30,737.09 265.67,737.15" fill="#525d78" opacity="0.8"/>
<polygon points="270.13,732.43 271.26,733.86 269.46,734.13" fill="#73809c" opacity="0.8"/>
<polygon points="260.54,734.40 261.71,736.47 259.33,736.44" fill="#5e6a86" opacity="0.8"/>
<polygon points="256.78,731.18 259.20,729.61 259.35,732.50" fill="#e6eaf1" opacity="0.8"/>
<polygon points="262.40,732.64 265.34,730.94 265.34,734.34" fill="#8894ad" opacity="0.8"/>
<polygon points="265.97,740.40 264.33,739.63 265.81,738.60" fill="#ffffff" opacity="0.8"/>
<polygon points="262.53,736.49 264.32,737.26 262.76,738.43" fill="#525d78" opacity="0.8"/>
<polygon points="260.88,741.91 259.96,738.58 263.31,739.45" fill="#e6eaf1" opacity="0.8"/>
<polygon points="258.69,730.83 258.69,727.67 261.43,729.25" fill="#525d78" opacity="0.8"/>
<polygon points="266.94,741.48 265.25,741.34 266.22,739.95" fill="#f4f6fa" opacity="0.8"/>
<polygon points="270.21,737.41 269.47,734.86 272.04,735.49" fill="#e6eaf1" opacity="0.8"/>
<polygon points="260.89,738.69 260.98,736.30 263.00,737.58" fill="#f4f6fa" opacity="0.8"/>
<polygon points="260.95,739.94 264.11,738.87 263.46,742.14" fill="#73809c" opacity="0.8"/>
<polygon points="263.25,735.53 261.44,737.32 260.80,734.86" fill="#525d78" opacity="0.8"/>
<polygon points="259.31,735.09 261.64,735.78 259.88,737.45" fill="#ffffff" opacity="0.8"/>
<polygon points="269.16,731.93 266.86,733.31 266.82,730.63" fill="#ffffff" opacity="0.8"/>
<polygon points="265.72,734.20 269.26,734.92 266.87,737.62" fill="#5e6a86" opacity="0.8"/>
<polygon points="260.93,731.08 262.82,733.48 259.80,733.92" fill="#ffffff" opacity="0.8"/>
<polygon points="264.87,740.64 263.24,740.90 263.83,739.36" fill="#73809c" opacity="0.8"/>
<polygon points="264.00,734.54 262.24,736.38 261.52,733.94" fill="#73809c" opacity="0.8"/>
<polygon points="263.30,732.93 265.77,733.43 264.10,735.33" fill="#9aa5bd" opacity="0.8"/>
<polygon points="269.77,735.69 268.09,732.98 271.27,732.88" fill="#8894ad" opacity="0.8"/>
<polygon points="262.13,728.01 263.29,729.20 261.68,729.61" fill="#9aa5bd" opacity="0.8"/>
<polygon points="263.83,740.29 264.57,738.01 266.18,739.79" fill="#e6eaf1" opacity="0.8"/>
<polygon points="264.05,729.60 263.00,727.91 264.99,727.85" fill="#e6eaf1" opacity="0.8"/>
<polygon points="270.01,731.91 273.29,733.09 270.64,735.34" fill="#ffffff" opacity="0.8"/>
<polygon points="261.65,737.04 264.65,735.52 264.46,738.88" fill="#ffffff" opacity="0.8"/>
<polygon points="265.35,727.63 263.49,728.23 263.90,726.32" fill="#8894ad" opacity="0.8"/>
<polygon points="240.50,750.50 240.43,751.57 240.21,752.62 239.85,753.63 239.35,754.57 238.72,755.43 237.99,756.19 237.18,756.86 236.31,757.44 235.38,757.92 234.39,758.31 233.36,758.58 232.30,758.70 231.24,758.58 230.21,758.31 229.22,757.92 228.29,757.44 227.42,756.86 226.61,756.19 225.88,755.43 225.25,754.57 224.75,753.63 224.39,752.62 224.17,751.57 224.10,750.50 224.17,749.43 224.39,748.38 224.75,747.37 225.25,746.43 225.88,745.57 226.61,744.81 227.42,744.14 228.29,743.56 229.22,743.08 230.21,742.69 231.24,742.42 232.30,742.30 233.36,742.42 234.39,742.69 235.38,743.08 236.31,743.56 237.18,744.14 237.99,744.81 238.72,745.57 239.35,746.43 239.85,747.37 240.21,748.38 240.43,749.43" fill="#d3d9e4" stroke="#6e4a1c" stroke-width="0.7" stroke-opacity="0.55"/>
<polygon points="229.83,746.43 231.23,744.58 232.13,746.72" fill="#f4f6fa" opacity="0.8"/>
<polygon points="229.95,751.13 229.56,752.69 228.40,751.57" fill="#8894ad" opacity="0.8"/>
<polygon points="225.73,752.41 228.07,749.96 229.02,753.21" fill="#e6eaf1" opacity="0.8"/>
<polygon points="231.78,745.17 229.93,747.82 228.56,744.90" fill="#8894ad" opacity="0.8"/>
<polygon points="233.76,746.09 231.71,748.37 230.76,745.46" fill="#f4f6fa" opacity="0.8"/>
<polygon points="227.18,751.61 227.96,753.49 225.95,753.23" fill="#f4f6fa" opacity="0.8"/>
<polygon points="225.90,748.35 226.87,745.80 228.60,747.92" fill="#ffffff" opacity="0.8"/>
<polygon points="228.97,755.04 229.47,753.36 230.67,754.63" fill="#e6eaf1" opacity="0.8"/>
<polygon points="228.52,757.83 230.36,755.32 231.62,758.17" fill="#e6eaf1" opacity="0.8"/>
<polygon points="225.24,748.50 226.42,745.41 228.50,747.97" fill="#e6eaf1" opacity="0.8"/>
<polygon points="237.37,750.65 237.82,748.42 239.52,749.92" fill="#e6eaf1" opacity="0.8"/>
<polygon points="230.73,756.03 233.37,755.37 232.62,757.99" fill="#5e6a86" opacity="0.8"/>
<polygon points="236.22,753.97 237.60,755.72 235.39,756.05" fill="#5e6a86" opacity="0.8"/>
<polygon points="229.95,755.83 232.21,754.43 232.29,757.09" fill="#5e6a86" opacity="0.8"/>
<polygon points="236.40,747.66 238.53,746.19 238.74,748.77" fill="#ffffff" opacity="0.8"/>
<polygon points="230.37,748.73 231.58,747.59 231.96,749.21" fill="#f4f6fa" opacity="0.8"/>
<polygon points="236.42,751.84 236.85,748.32 239.68,750.45" fill="#73809c" opacity="0.8"/>
<polygon points="235.13,750.66 237.48,752.53 234.69,753.63" fill="#73809c" opacity="0.8"/>
<polygon points="228.30,752.73 230.50,752.07 229.97,754.31" fill="#5e6a86" opacity="0.8"/>
<polygon points="228.29,748.05 228.96,750.36 226.63,749.79" fill="#8894ad" opacity="0.8"/>
<polygon points="231.31,750.08 234.56,751.22 231.95,753.47" fill="#5e6a86" opacity="0.8"/>
<polygon points="231.55,745.46 233.51,747.12 231.09,747.99" fill="#5e6a86" opacity="0.8"/>
<polygon points="229.44,746.28 231.61,746.86 230.03,748.45" fill="#f4f6fa" opacity="0.8"/>
<polygon points="231.39,748.50 229.16,745.96 232.47,745.29" fill="#e6eaf1" opacity="0.8"/>
<polygon points="232.42,747.43 233.39,750.76 230.02,749.93" fill="#9aa5bd" opacity="0.8"/>
<polygon points="227.04,747.18 225.75,745.62 227.74,745.28" fill="#ffffff" opacity="0.8"/>
<polygon points="235.17,756.63 236.58,754.85 237.42,756.96" fill="#ffffff" opacity="0.8"/>
<polygon points="233.81,751.60 234.99,754.13 232.21,753.89" fill="#e6eaf1" opacity="0.8"/>
<polygon points="229.50,754.43 228.88,756.35 227.53,754.86" fill="#8894ad" opacity="0.8"/>
<polygon points="229.86,749.42 232.08,750.75 229.83,752.01" fill="#8894ad" opacity="0.8"/>
<polygon points="256.50,750.50 256.43,751.57 256.21,752.62 255.85,753.63 255.35,754.57 254.72,755.43 253.99,756.19 253.18,756.86 252.31,757.44 251.38,757.92 250.39,758.31 249.36,758.58 248.30,758.70 247.24,758.58 246.21,758.31 245.22,757.92 244.29,757.44 243.42,756.86 242.61,756.19 241.88,755.43 241.25,754.57 240.75,753.63 240.39,752.62 240.17,751.57 240.10,750.50 240.17,749.43 240.39,748.38 240.75,747.37 241.25,746.43 241.88,745.57 242.61,744.81 243.42,744.14 244.29,743.56 245.22,743.08 246.21,742.69 247.24,742.42 248.30,742.30 249.36,742.42 250.39,742.69 251.38,743.08 252.31,743.56 253.18,744.14 253.99,744.81 254.72,745.57 255.35,746.43 255.85,747.37 256.21,748.38 256.43,749.43" fill="#d3d9e4" stroke="#6e4a1c" stroke-width="0.7" stroke-opacity="0.55"/>
<polygon points="250.92,744.98 247.64,746.26 248.18,742.78" fill="#ffffff" opacity="0.8"/>
<polygon points="250.67,750.43 254.26,750.81 252.14,753.73" fill="#e6eaf1" opacity="0.8"/>
<polygon points="250.09,750.50 251.30,751.54 249.79,752.07" fill="#5e6a86" opacity="0.8"/>
<polygon points="246.43,749.03 247.98,750.09 246.29,750.90" fill="#73809c" opacity="0.8"/>
<polygon points="243.59,752.51 243.98,749.82 246.12,751.50" fill="#f4f6fa" opacity="0.8"/>
<polygon points="256.38,750.77 254.39,751.68 254.60,749.50" fill="#f4f6fa" opacity="0.8"/>
<polygon points="247.20,756.37 245.12,755.98 246.50,754.37" fill="#525d78" opacity="0.8"/>
<polygon points="244.28,750.65 243.55,752.73 242.11,751.06" fill="#f4f6fa" opacity="0.8"/>
<polygon points="245.45,746.69 246.29,744.43 247.83,746.29" fill="#ffffff" opacity="0.8"/>
<polygon points="249.43,755.19 247.06,756.60 247.02,753.84" fill="#8894ad" opacity="0.8"/>
<polygon points="246.64,753.17 248.82,754.11 246.92,755.53" fill="#73809c" opacity="0.8"/>
<polygon points="246.31,747.07 245.88,748.97 244.44,747.65" fill="#f4f6fa" opacity="0.8"/>
<polygon points="244.19,745.60 246.33,743.36 247.21,746.34" fill="#e6eaf1" opacity="0.8"/>
<polygon points="244.02,749.16 246.51,750.35 244.23,751.91" fill="#73809c" opacity="0.8"/>
<polygon points="249.46,751.53 252.93,750.65 251.96,754.09" fill="#ffffff" opacity="0.8"/>
<polygon points="246.21,750.99 246.53,748.86 248.22,750.20" fill="#8894ad" opacity="0.8"/>
<polygon points="246.55,748.18 247.27,751.46 244.07,750.45" fill="#525d78" opacity="0.8"/>
<polygon points="239.96,751.71 243.37,751.88 241.51,754.75" fill="#f4f6fa" opacity="0.8"/>
<polygon points="242.68,747.79 244.08,746.48 244.51,748.35" fill="#8894ad" opacity="0.8"/>
<polygon points="245.40,747.17 247.81,746.56 247.14,748.95" fill="#ffffff" opacity="0.8"/>
<polygon points="256.74,750.19 254.18,751.41 254.40,748.58" fill="#73809c" opacity="0.8"/>
<polygon points="246.08,749.52 244.25,748.29 246.23,747.31" fill="#f4f6fa" opacity="0.8"/>
<polygon points="241.78,750.52 240.25,749.33 242.04,748.60" fill="#8894ad" opacity="0.8"/>
<polygon points="248.67,747.90 249.03,749.49 247.47,749.01" fill="#9aa5bd" opacity="0.8"/>
<polygon points="251.09,743.86 250.08,746.79 248.05,744.44" fill="#ffffff" opacity="0.8"/>
<polygon points="249.83,745.78 249.56,742.69 252.37,744.00" fill="#525d78" opacity="0.8"/>
<polygon points="242.27,745.58 243.91,745.38 243.27,746.90" fill="#e6eaf1" opacity="0.8"/>
<polygon points="251.65,745.44 253.82,746.37 251.93,747.79" fill="#ffffff" opacity="0.8"/>
<polygon points="241.10,751.88 240.41,749.95 242.43,750.32" fill="#73809c" opacity="0.8"/>
<polygon points="247.56,750.00 246.45,748.40 248.39,748.24" fill="#9aa5bd" opacity="0.8"/>
<polygon points="272.90,750.50 272.83,751.57 272.61,752.62 272.25,753.63 271.75,754.57 271.12,755.43 270.39,756.19 269.58,756.86 268.71,757.44 267.78,757.92 266.79,758.31 265.76,758.58 264.70,758.70 263.64,758.58 262.61,758.31 261.62,757.92 260.69,757.44 259.82,756.86 259.01,756.19 258.28,755.43 257.65,754.57 257.15,753.63 256.79,752.62 256.57,751.57 256.50,750.50 256.57,749.43 256.79,748.38 257.15,747.37 257.65,746.43 258.28,745.57 259.01,744.81 259.82,744.14 260.69,743.56 261.62,743.08 262.61,742.69 263.64,742.42 264.70,742.30 265.76,742.42 266.79,742.69 267.78,743.08 268.71,743.56 269.58,744.14 270.39,744.81 271.12,745.57 271.75,746.43 272.25,747.37 272.61,748.38 272.83,749.43" fill="#d3d9e4" stroke="#6e4a1c" stroke-width="0.7" stroke-opacity="0.55"/>
<polygon points="269.33,747.45 271.05,748.01 269.70,749.22" fill="#e6eaf1" opacity="0.8"/>
<polygon points="267.62,749.39 268.35,748.00 269.19,749.33" fill="#e6eaf1" opacity="0.8"/>
<polygon points="261.78,754.11 260.22,754.68 260.51,753.04" fill="#f4f6fa" opacity="0.8"/>
<polygon points="259.29,747.34 262.57,748.64 259.81,750.82" fill="#5e6a86" opacity="0.8"/>
<polygon points="263.87,749.90 266.59,750.99 264.29,752.79" fill="#8894ad" opacity="0.8"/>
<polygon points="259.10,751.82 260.69,751.40 260.25,752.99" fill="#73809c" opacity="0.8"/>
<polygon points="266.63,754.17 267.85,752.54 268.65,754.41" fill="#e6eaf1" opacity="0.8"/>
<polygon points="266.21,744.87 263.21,745.48 264.19,742.58" fill="#8894ad" opacity="0.8"/>
<polygon points="267.34,752.96 265.80,753.51 266.09,751.90" fill="#e6eaf1" opacity="0.8"/>
<polygon points="267.79,756.13 267.89,754.29 269.44,755.30" fill="#73809c" opacity="0.8"/>
<polygon points="260.79,748.97 262.09,747.54 262.68,749.38" fill="#ffffff" opacity="0.8"/>
<polygon points="266.98,756.87 265.34,755.90 267.00,754.96" fill="#f4f6fa" opacity="0.8"/>
<polygon points="265.85,744.76 267.06,746.76 264.72,746.81" fill="#525d78" opacity="0.8"/>
<polygon points="260.26,753.04 261.87,753.36 260.78,754.59" fill="#73809c" opacity="0.8"/>
<polygon points="267.43,742.69 268.10,745.04 265.73,744.45" fill="#e6eaf1" opacity="0.8"/>
<polygon points="264.67,755.62 262.07,754.25 264.55,752.68" fill="#f4f6fa" opacity="0.8"/>
<polygon points="266.63,751.11 265.39,748.47 268.30,748.72" fill="#9aa5bd" opacity="0.8"/>
<polygon points="262.49,754.68 264.87,756.81 261.84,757.80" fill="#5e6a86" opacity="0.8"/>
<polygon points="260.11,747.05 258.99,745.07 261.26,745.10" fill="#f4f6fa" opacity="0.8"/>
<polygon points="269.51,751.20 270.11,747.90 272.67,750.07" fill="#e6eaf1" opacity="0.8"/>
<polygon points="270.99,747.26 268.05,748.98 268.03,745.57" fill="#e6eaf1" opacity="0.8"/>
<polygon points="259.94,745.33 260.73,743.65 261.79,745.18" fill="#e6eaf1" opacity="0.8"/>
<polygon points="268.44,754.53 270.17,752.17 271.35,754.85" fill="#e6eaf1" opacity="0.8"/>
<polygon points="264.54,755.98 262.34,754.21 264.97,753.20" fill="#f4f6fa" opacity="0.8"/>
<polygon points="261.81,745.63 260.52,744.64 262.01,744.02" fill="#ffffff" opacity="0.8"/>
<polygon points="264.24,749.42 261.75,747.21 264.90,746.16" fill="#f4f6fa" opacity="0.8"/>
<polygon points="259.56,745.73 260.99,746.83 259.33,747.51" fill="#ffffff" opacity="0.8"/>
<polygon points="263.12,746.98 260.67,747.89 261.11,745.31" fill="#ffffff" opacity="0.8"/>
<polygon points="263.72,745.70 265.36,747.66 262.84,748.10" fill="#e6eaf1" opacity="0.8"/>
<polygon points="267.91,749.45 268.78,747.41 270.11,749.18" fill="#ffffff" opacity="0.8"/>
<path d="M226,709 L271,709" stroke="#4a3210" stroke-width="1.4" opacity="0.8"/>
<path d="M226,759.6 L271,759.6" stroke="#4a3210" stroke-width="1.4" opacity="0.8"/>
<path d="M222.2,705.1 L232.2,707.5 L232.2,711.9 L222.2,714.3 Z" fill="#c89443"/><rect x="217.4" y="704.8" width="9.6" height="9.8" rx="4" fill="url(#prong)"/><path d="M221.0,705.5 L221.0,713.9" stroke="#8a5c22" stroke-width="0.8" opacity="0.6"/>
<path d="M274.2,705.1 L264.2,707.5 L264.2,711.9 L274.2,714.3 Z" fill="#c89443"/><rect x="269.4" y="704.8" width="9.6" height="9.8" rx="4" fill="url(#prong)"/><path d="M275.4,705.5 L275.4,713.9" stroke="#8a5c22" stroke-width="0.8" opacity="0.6"/>
<path d="M222.2,755.2 L232.2,757.6 L232.2,762.0 L222.2,764.4 Z" fill="#c89443"/><rect x="217.4" y="754.9" width="9.6" height="9.8" rx="4" fill="url(#prong)"/><path d="M221.0,755.6 L221.0,764.0" stroke="#8a5c22" stroke-width="0.8" opacity="0.6"/>
<path d="M274.2,755.2 L264.2,757.6 L264.2,762.0 L274.2,764.4 Z" fill="#c89443"/><rect x="269.4" y="754.9" width="9.6" height="9.8" rx="4" fill="url(#prong)"/><path d="M275.4,755.6 L275.4,764.0" stroke="#8a5c22" stroke-width="0.8" opacity="0.6"/>
</g>
</g>
</svg>
</body></html>
